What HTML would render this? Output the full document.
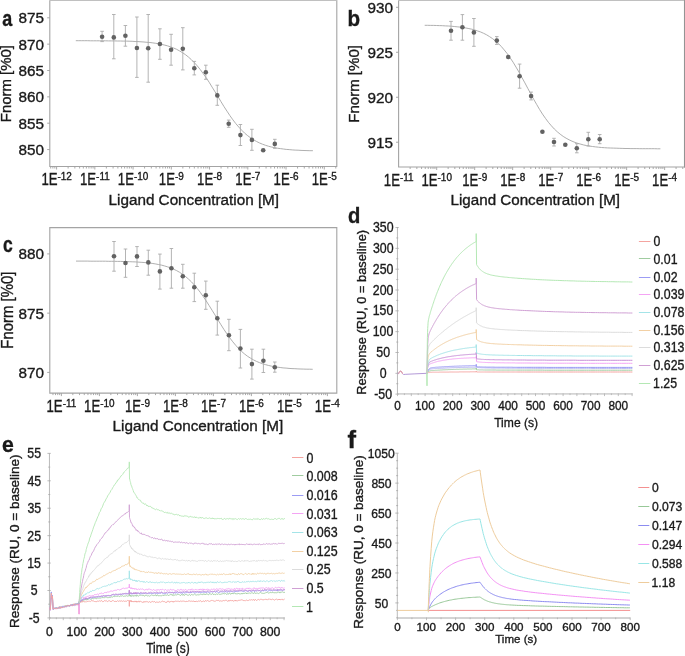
<!DOCTYPE html>
<html><head><meta charset="utf-8"><style>
html,body{margin:0;padding:0;background:#fff;}
svg{display:block;will-change:transform;}
text{font-family:"Liberation Sans", sans-serif;stroke:#1a1a1a;stroke-width:0.35px;}
</style></head><body>
<svg width="685" height="656" viewBox="0 0 685 656" fill="#1a1a1a">
<rect width="685" height="656" fill="#fff"/>
<path d="M49.8 0.5 V166.5 H336.8 V0.5" stroke="#a4a4a4" stroke-width="1.1" fill="none"/>
<path d="M49.3 0.5 H337.3" stroke="#c0c0c0" stroke-width="1" fill="none"/>
<path d="M47.2 17.8 H49.8 M47.2 44.15 H49.8 M47.2 70.5 H49.8 M47.2 96.85 H49.8 M47.2 123.2 H49.8 M47.2 149.55 H49.8 M50.68 166.5 V168.5 M52.89 166.5 V168.5 M54.85 166.5 V168.5 M56.6 166.5 V169.5 M68.11 166.5 V168.5 M74.85 166.5 V168.5 M79.62 166.5 V168.5 M83.33 166.5 V168.5 M86.36 166.5 V168.5 M88.92 166.5 V168.5 M91.13 166.5 V168.5 M93.09 166.5 V168.5 M94.84 166.5 V169.5 M106.35 166.5 V168.5 M113.09 166.5 V168.5 M117.86 166.5 V168.5 M121.57 166.5 V168.5 M124.6 166.5 V168.5 M127.16 166.5 V168.5 M129.37 166.5 V168.5 M131.33 166.5 V168.5 M133.08 166.5 V169.5 M144.59 166.5 V168.5 M151.33 166.5 V168.5 M156.1 166.5 V168.5 M159.81 166.5 V168.5 M162.84 166.5 V168.5 M165.4 166.5 V168.5 M167.61 166.5 V168.5 M169.57 166.5 V168.5 M171.32 166.5 V169.5 M182.83 166.5 V168.5 M189.57 166.5 V168.5 M194.34 166.5 V168.5 M198.05 166.5 V168.5 M201.08 166.5 V168.5 M203.64 166.5 V168.5 M205.85 166.5 V168.5 M207.81 166.5 V168.5 M209.56 166.5 V169.5 M221.07 166.5 V168.5 M227.81 166.5 V168.5 M232.58 166.5 V168.5 M236.29 166.5 V168.5 M239.32 166.5 V168.5 M241.88 166.5 V168.5 M244.09 166.5 V168.5 M246.05 166.5 V168.5 M247.8 166.5 V169.5 M259.31 166.5 V168.5 M266.05 166.5 V168.5 M270.82 166.5 V168.5 M274.53 166.5 V168.5 M277.56 166.5 V168.5 M280.12 166.5 V168.5 M282.33 166.5 V168.5 M284.29 166.5 V168.5 M286.04 166.5 V169.5 M297.55 166.5 V168.5 M304.29 166.5 V168.5 M309.06 166.5 V168.5 M312.77 166.5 V168.5 M315.8 166.5 V168.5 M318.36 166.5 V168.5 M320.57 166.5 V168.5 M322.53 166.5 V168.5 M324.28 166.5 V169.5 M335.79 166.5 V168.5" stroke="#a0a0a0" stroke-width="0.9" fill="none"/>
<text x="44" y="23.2" font-size="15.3" text-anchor="end">875</text>
<text x="44" y="49.55" font-size="15.3" text-anchor="end">870</text>
<text x="44" y="75.9" font-size="15.3" text-anchor="end">865</text>
<text x="44" y="102.25" font-size="15.3" text-anchor="end">860</text>
<text x="44" y="128.6" font-size="15.3" text-anchor="end">855</text>
<text x="44" y="154.95" font-size="15.3" text-anchor="end">850</text>
<text x="41.38" y="185.05" font-size="16.3" textLength="16.15" lengthAdjust="spacingAndGlyphs">1E</text>
<text x="57.51" y="180.2" font-size="10.5" textLength="14.42" lengthAdjust="spacingAndGlyphs">-12</text>
<text x="79.98" y="185.05" font-size="16.3" textLength="16.15" lengthAdjust="spacingAndGlyphs">1E</text>
<text x="96.11" y="180.2" font-size="10.5" textLength="13.68" lengthAdjust="spacingAndGlyphs">-11</text>
<text x="117.8" y="185.05" font-size="16.3" textLength="16.15" lengthAdjust="spacingAndGlyphs">1E</text>
<text x="133.93" y="180.2" font-size="10.5" textLength="14.42" lengthAdjust="spacingAndGlyphs">-10</text>
<text x="158.86" y="185.05" font-size="16.3" textLength="16.15" lengthAdjust="spacingAndGlyphs">1E</text>
<text x="174.99" y="180.2" font-size="10.5" textLength="8.87" lengthAdjust="spacingAndGlyphs">-9</text>
<text x="197.09" y="185.05" font-size="16.3" textLength="16.15" lengthAdjust="spacingAndGlyphs">1E</text>
<text x="213.22" y="180.2" font-size="10.5" textLength="8.87" lengthAdjust="spacingAndGlyphs">-8</text>
<text x="235.36" y="185.05" font-size="16.3" textLength="16.15" lengthAdjust="spacingAndGlyphs">1E</text>
<text x="251.49" y="180.2" font-size="10.5" textLength="8.87" lengthAdjust="spacingAndGlyphs">-7</text>
<text x="273.57" y="185.05" font-size="16.3" textLength="16.15" lengthAdjust="spacingAndGlyphs">1E</text>
<text x="289.7" y="180.2" font-size="10.5" textLength="8.87" lengthAdjust="spacingAndGlyphs">-6</text>
<text x="311.79" y="185.05" font-size="16.3" textLength="16.15" lengthAdjust="spacingAndGlyphs">1E</text>
<text x="327.92" y="180.2" font-size="10.5" textLength="8.87" lengthAdjust="spacingAndGlyphs">-5</text>
<path d="M75.8 40.7L78.8 40.7L81.7 40.7L84.7 40.7L87.7 40.7L90.6 40.8L93.6 40.8L96.5 40.8L99.5 40.8L102.5 40.8L105.4 40.8L108.4 40.9L111.4 40.9L114.3 40.9L117.3 41L120.3 41L123.2 41.1L126.2 41.1L129.1 41.2L132.1 41.3L135.1 41.5L138 41.6L141 41.8L144 42L146.9 42.3L149.9 42.5L152.9 42.9L155.8 43.3L158.8 43.8L161.7 44.4L164.7 45.1L167.7 45.9L170.6 46.9L173.6 48L176.6 49.3L179.5 50.9L182.5 52.7L185.5 54.7L188.4 57L191.4 59.7L194.3 62.6L197.3 65.9L200.3 69.6L203.2 73.6L206.2 77.8L209.2 82.3L212.1 87.1L215.1 91.9L218.1 96.8L221 101.7L224 106.6L227 111.2L229.9 115.6L232.9 119.8L235.8 123.6L238.8 127.1L241.8 130.3L244.7 133.2L247.7 135.7L250.7 137.9L253.6 139.8L256.6 141.5L259.6 143L262.5 144.2L265.5 145.3L268.4 146.2L271.4 147L274.4 147.6L277.3 148.2L280.3 148.6L283.3 149L286.2 149.4L289.2 149.6L292.2 149.9L295.1 150.1L298.1 150.2L301 150.4L304 150.5L307 150.6L309.9 150.7L312.9 150.7" stroke="#a6a6a6" stroke-width="0.9" fill="none"/>
<path d="M102.1 31.3V41.6M100.3 31.3H103.9M100.3 41.6H103.9" stroke="#acacac" stroke-width="0.9" fill="none"/>
<circle cx="102.1" cy="36.8" r="2.3" fill="#626262"/>
<path d="M113.8 14.5V58.8M112 14.5H115.6M112 58.8H115.6" stroke="#acacac" stroke-width="0.9" fill="none"/>
<circle cx="113.8" cy="37.4" r="2.3" fill="#626262"/>
<path d="M125.4 25.5V46.2M123.6 25.5H127.2M123.6 46.2H127.2" stroke="#acacac" stroke-width="0.9" fill="none"/>
<circle cx="125.4" cy="35.7" r="2.3" fill="#626262"/>
<path d="M136.9 17V77.4M135.1 17H138.7M135.1 77.4H138.7" stroke="#acacac" stroke-width="0.9" fill="none"/>
<circle cx="136.9" cy="48" r="2.3" fill="#626262"/>
<path d="M148.2 14.5V82.2M146.4 14.5H150M146.4 82.2H150" stroke="#acacac" stroke-width="0.9" fill="none"/>
<circle cx="148.2" cy="48.2" r="2.3" fill="#626262"/>
<path d="M159.9 28.8V59.3M158.1 28.8H161.7M158.1 59.3H161.7" stroke="#acacac" stroke-width="0.9" fill="none"/>
<circle cx="159.9" cy="44" r="2.3" fill="#626262"/>
<path d="M171.1 34.3V65.2M169.3 34.3H172.9M169.3 65.2H172.9" stroke="#acacac" stroke-width="0.9" fill="none"/>
<circle cx="171.1" cy="49.8" r="2.3" fill="#626262"/>
<path d="M182.8 27.7V69.9M181 27.7H184.6M181 69.9H184.6" stroke="#acacac" stroke-width="0.9" fill="none"/>
<circle cx="182.8" cy="48.7" r="2.3" fill="#626262"/>
<path d="M194.3 61.4V74.9M192.5 61.4H196.1M192.5 74.9H196.1" stroke="#acacac" stroke-width="0.9" fill="none"/>
<circle cx="194.3" cy="68.2" r="2.3" fill="#626262"/>
<path d="M205.8 65.2V79.3M204 65.2H207.6M204 79.3H207.6" stroke="#acacac" stroke-width="0.9" fill="none"/>
<circle cx="205.8" cy="72.2" r="2.3" fill="#626262"/>
<path d="M217.3 85.2V105.3M215.5 85.2H219.1M215.5 105.3H219.1" stroke="#acacac" stroke-width="0.9" fill="none"/>
<circle cx="217.3" cy="95.4" r="2.3" fill="#626262"/>
<path d="M228.7 120.1V127.3M226.9 120.1H230.5M226.9 127.3H230.5" stroke="#acacac" stroke-width="0.9" fill="none"/>
<circle cx="228.7" cy="123.8" r="2.3" fill="#626262"/>
<path d="M240.4 124.5V145.5M238.6 124.5H242.2M238.6 145.5H242.2" stroke="#acacac" stroke-width="0.9" fill="none"/>
<circle cx="240.4" cy="135.1" r="2.3" fill="#626262"/>
<path d="M251.9 129.3V150.3M250.1 129.3H253.7M250.1 150.3H253.7" stroke="#acacac" stroke-width="0.9" fill="none"/>
<circle cx="251.9" cy="139.9" r="2.3" fill="#626262"/>
<circle cx="263.2" cy="150.3" r="2.3" fill="#626262"/>
<path d="M274.8 139.3V148.3M273 139.3H276.6M273 148.3H276.6" stroke="#acacac" stroke-width="0.9" fill="none"/>
<circle cx="274.8" cy="143.9" r="2.3" fill="#626262"/>
<text x="108.54" y="204.55" font-size="15.05" textLength="170.55" lengthAdjust="spacingAndGlyphs">Ligand Concentration [M]</text>
<text x="11.3" y="122.13" font-size="15.13" textLength="77.08" lengthAdjust="spacingAndGlyphs" transform="rotate(-90 11.3 122.13)">Fnorm [%0]</text>
<text x="2.31" y="26.08" font-size="21.55" font-weight="bold" textLength="9.97" lengthAdjust="spacingAndGlyphs">a</text>
<path d="M398.6 0.5 V167 H684.5 V0.5" stroke="#a4a4a4" stroke-width="1.1" fill="none"/>
<path d="M398.1 0.5 H685" stroke="#c0c0c0" stroke-width="1" fill="none"/>
<path d="M396 7.3 H398.6 M396 52.27 H398.6 M396 97.25 H398.6 M396 142.22 H398.6 M410.14 167 V169 M416.83 167 V169 M421.57 167 V169 M425.25 167 V169 M428.26 167 V169 M430.81 167 V169 M433.01 167 V169 M434.95 167 V169 M436.69 167 V170 M448.13 167 V169 M454.82 167 V169 M459.56 167 V169 M463.24 167 V169 M466.25 167 V169 M468.8 167 V169 M471 167 V169 M472.94 167 V169 M474.68 167 V170 M486.12 167 V169 M492.81 167 V169 M497.55 167 V169 M501.23 167 V169 M504.24 167 V169 M506.79 167 V169 M508.99 167 V169 M510.93 167 V169 M512.67 167 V170 M524.11 167 V169 M530.8 167 V169 M535.54 167 V169 M539.22 167 V169 M542.23 167 V169 M544.78 167 V169 M546.98 167 V169 M548.92 167 V169 M550.66 167 V170 M562.1 167 V169 M568.79 167 V169 M573.53 167 V169 M577.21 167 V169 M580.22 167 V169 M582.77 167 V169 M584.97 167 V169 M586.91 167 V169 M588.65 167 V170 M600.09 167 V169 M606.78 167 V169 M611.52 167 V169 M615.2 167 V169 M618.21 167 V169 M620.76 167 V169 M622.96 167 V169 M624.9 167 V169 M626.64 167 V170 M638.08 167 V169 M644.77 167 V169 M649.51 167 V169 M653.19 167 V169 M656.2 167 V169 M658.75 167 V169 M660.95 167 V169 M662.89 167 V169 M664.63 167 V170 M676.07 167 V169 M682.76 167 V169" stroke="#a0a0a0" stroke-width="0.9" fill="none"/>
<text x="393" y="12.7" font-size="15.3" text-anchor="end">930</text>
<text x="393" y="57.67" font-size="15.3" text-anchor="end">925</text>
<text x="393" y="102.65" font-size="15.3" text-anchor="end">920</text>
<text x="393" y="147.62" font-size="15.3" text-anchor="end">915</text>
<text x="383.84" y="185.6" font-size="16.3" textLength="16.15" lengthAdjust="spacingAndGlyphs">1E</text>
<text x="399.97" y="180.75" font-size="10.5" textLength="13.68" lengthAdjust="spacingAndGlyphs">-11</text>
<text x="421.41" y="185.6" font-size="16.3" textLength="16.15" lengthAdjust="spacingAndGlyphs">1E</text>
<text x="437.54" y="180.75" font-size="10.5" textLength="14.42" lengthAdjust="spacingAndGlyphs">-10</text>
<text x="462.22" y="185.6" font-size="16.3" textLength="16.15" lengthAdjust="spacingAndGlyphs">1E</text>
<text x="478.35" y="180.75" font-size="10.5" textLength="8.87" lengthAdjust="spacingAndGlyphs">-9</text>
<text x="500.2" y="185.6" font-size="16.3" textLength="16.15" lengthAdjust="spacingAndGlyphs">1E</text>
<text x="516.33" y="180.75" font-size="10.5" textLength="8.87" lengthAdjust="spacingAndGlyphs">-8</text>
<text x="538.22" y="185.6" font-size="16.3" textLength="16.15" lengthAdjust="spacingAndGlyphs">1E</text>
<text x="554.35" y="180.75" font-size="10.5" textLength="8.87" lengthAdjust="spacingAndGlyphs">-7</text>
<text x="576.18" y="185.6" font-size="16.3" textLength="16.15" lengthAdjust="spacingAndGlyphs">1E</text>
<text x="592.31" y="180.75" font-size="10.5" textLength="8.87" lengthAdjust="spacingAndGlyphs">-6</text>
<text x="614.15" y="185.6" font-size="16.3" textLength="16.15" lengthAdjust="spacingAndGlyphs">1E</text>
<text x="630.28" y="180.75" font-size="10.5" textLength="8.87" lengthAdjust="spacingAndGlyphs">-5</text>
<text x="652.08" y="185.6" font-size="16.3" textLength="16.15" lengthAdjust="spacingAndGlyphs">1E</text>
<text x="668.21" y="180.75" font-size="10.5" textLength="8.87" lengthAdjust="spacingAndGlyphs">-4</text>
<path d="M424.7 25.3L427.6 25.3L430.6 25.4L433.5 25.4L436.5 25.5L439.4 25.6L442.4 25.7L445.3 25.9L448.3 26L451.2 26.2L454.2 26.5L457.1 26.8L460.1 27.1L463 27.5L465.9 28L468.9 28.6L471.8 29.2L474.8 30L477.7 31L480.7 32L483.6 33.3L486.6 34.8L489.5 36.6L492.5 38.6L495.4 40.9L498.4 43.5L501.3 46.5L504.2 49.9L507.2 53.6L510.1 57.8L513.1 62.2L516 67.1L519 72.1L521.9 77.5L524.9 82.9L527.8 88.4L530.8 93.9L533.7 99.3L536.7 104.5L539.6 109.5L542.5 114.1L545.5 118.4L548.4 122.3L551.4 125.8L554.3 129L557.3 131.8L560.2 134.2L563.2 136.4L566.1 138.2L569.1 139.8L572 141.2L575 142.4L577.9 143.4L580.9 144.2L583.8 145L586.7 145.6L589.7 146.1L592.6 146.5L595.6 146.9L598.5 147.2L601.5 147.5L604.4 147.7L607.4 147.9L610.3 148L613.3 148.1L616.2 148.2L619.2 148.3L622.1 148.4L625 148.5L628 148.5L630.9 148.6L633.9 148.6L636.8 148.6L639.8 148.7L642.7 148.7L645.7 148.7L648.6 148.7L651.6 148.7L654.5 148.7L657.5 148.8L660.4 148.8" stroke="#a6a6a6" stroke-width="0.9" fill="none"/>
<path d="M451 21.4V40.2M449.2 21.4H452.8M449.2 40.2H452.8" stroke="#acacac" stroke-width="0.9" fill="none"/>
<circle cx="451" cy="30.7" r="2.3" fill="#626262"/>
<path d="M462.4 14.6V40.2M460.6 14.6H464.2M460.6 40.2H464.2" stroke="#acacac" stroke-width="0.9" fill="none"/>
<circle cx="462.4" cy="27.3" r="2.3" fill="#626262"/>
<path d="M473.9 18.5V46.3M472.1 18.5H475.7M472.1 46.3H475.7" stroke="#acacac" stroke-width="0.9" fill="none"/>
<circle cx="473.9" cy="32.4" r="2.3" fill="#626262"/>
<path d="M496.8 36.6V44.4M495 36.6H498.6M495 44.4H498.6" stroke="#acacac" stroke-width="0.9" fill="none"/>
<circle cx="496.8" cy="40.6" r="2.3" fill="#626262"/>
<circle cx="508.2" cy="57" r="2.3" fill="#626262"/>
<path d="M519.6 64.1V88.2M517.8 64.1H521.4M517.8 88.2H521.4" stroke="#acacac" stroke-width="0.9" fill="none"/>
<circle cx="519.6" cy="76.2" r="2.3" fill="#626262"/>
<path d="M531.1 92.1V99.9M529.3 92.1H532.9M529.3 99.9H532.9" stroke="#acacac" stroke-width="0.9" fill="none"/>
<circle cx="531.1" cy="96.1" r="2.3" fill="#626262"/>
<circle cx="542.4" cy="131.8" r="2.3" fill="#626262"/>
<path d="M554 138.3V146M552.2 138.3H555.8M552.2 146H555.8" stroke="#acacac" stroke-width="0.9" fill="none"/>
<circle cx="554" cy="142" r="2.3" fill="#626262"/>
<circle cx="565.3" cy="144.8" r="2.3" fill="#626262"/>
<path d="M576.8 143.7V152.8M575 143.7H578.6M575 152.8H578.6" stroke="#acacac" stroke-width="0.9" fill="none"/>
<circle cx="576.8" cy="148.2" r="2.3" fill="#626262"/>
<path d="M588.3 132.3V146M586.5 132.3H590.1M586.5 146H590.1" stroke="#acacac" stroke-width="0.9" fill="none"/>
<circle cx="588.3" cy="139.3" r="2.3" fill="#626262"/>
<path d="M599.7 134.5V143.7M597.9 134.5H601.5M597.9 143.7H601.5" stroke="#acacac" stroke-width="0.9" fill="none"/>
<circle cx="599.7" cy="139.3" r="2.3" fill="#626262"/>
<text x="450.55" y="204.8" font-size="14.69" textLength="169.43" lengthAdjust="spacingAndGlyphs">Ligand Concentration [M]</text>
<path d="M684.5 0 V167.5" stroke="#949494" stroke-width="1" fill="none"/>
<text x="359.5" y="122.74" font-size="15.42" textLength="77.7" lengthAdjust="spacingAndGlyphs" transform="rotate(-90 359.5 122.74)">Fnorm [%0]</text>
<text x="347.56" y="25.79" font-size="21.5" font-weight="bold" textLength="12.58" lengthAdjust="spacingAndGlyphs">b</text>
<path d="M49.8 227.6 V393.1 H336.8 V227.6 H49.8 Z" stroke="#a4a4a4" stroke-width="1.1" fill="none"/>
<path d="M47.2 253.9 H49.8 M47.2 313.15 H49.8 M47.2 372.4 H49.8 M52.97 393.1 V395.1 M55.51 393.1 V395.1 M57.72 393.1 V395.1 M59.66 393.1 V395.1 M61.4 393.1 V396.1 M72.84 393.1 V395.1 M79.53 393.1 V395.1 M84.28 393.1 V395.1 M87.96 393.1 V395.1 M90.97 393.1 V395.1 M93.51 393.1 V395.1 M95.72 393.1 V395.1 M97.66 393.1 V395.1 M99.4 393.1 V396.1 M110.84 393.1 V395.1 M117.53 393.1 V395.1 M122.28 393.1 V395.1 M125.96 393.1 V395.1 M128.97 393.1 V395.1 M131.51 393.1 V395.1 M133.72 393.1 V395.1 M135.66 393.1 V395.1 M137.4 393.1 V396.1 M148.84 393.1 V395.1 M155.53 393.1 V395.1 M160.28 393.1 V395.1 M163.96 393.1 V395.1 M166.97 393.1 V395.1 M169.51 393.1 V395.1 M171.72 393.1 V395.1 M173.66 393.1 V395.1 M175.4 393.1 V396.1 M186.84 393.1 V395.1 M193.53 393.1 V395.1 M198.28 393.1 V395.1 M201.96 393.1 V395.1 M204.97 393.1 V395.1 M207.51 393.1 V395.1 M209.72 393.1 V395.1 M211.66 393.1 V395.1 M213.4 393.1 V396.1 M224.84 393.1 V395.1 M231.53 393.1 V395.1 M236.28 393.1 V395.1 M239.96 393.1 V395.1 M242.97 393.1 V395.1 M245.51 393.1 V395.1 M247.72 393.1 V395.1 M249.66 393.1 V395.1 M251.4 393.1 V396.1 M262.84 393.1 V395.1 M269.53 393.1 V395.1 M274.28 393.1 V395.1 M277.96 393.1 V395.1 M280.97 393.1 V395.1 M283.51 393.1 V395.1 M285.72 393.1 V395.1 M287.66 393.1 V395.1 M289.4 393.1 V396.1 M300.84 393.1 V395.1 M307.53 393.1 V395.1 M312.28 393.1 V395.1 M315.96 393.1 V395.1 M318.97 393.1 V395.1 M321.51 393.1 V395.1 M323.72 393.1 V395.1 M325.66 393.1 V395.1 M327.4 393.1 V396.1" stroke="#a0a0a0" stroke-width="0.9" fill="none"/>
<text x="44" y="259.3" font-size="15.3" text-anchor="end">880</text>
<text x="44" y="318.55" font-size="15.3" text-anchor="end">875</text>
<text x="44" y="377.8" font-size="15.3" text-anchor="end">870</text>
<text x="46.54" y="411.6" font-size="16.3" textLength="16.15" lengthAdjust="spacingAndGlyphs">1E</text>
<text x="62.67" y="406.75" font-size="10.5" textLength="13.68" lengthAdjust="spacingAndGlyphs">-11</text>
<text x="84.12" y="411.6" font-size="16.3" textLength="16.15" lengthAdjust="spacingAndGlyphs">1E</text>
<text x="100.25" y="406.75" font-size="10.5" textLength="14.42" lengthAdjust="spacingAndGlyphs">-10</text>
<text x="124.94" y="411.6" font-size="16.3" textLength="16.15" lengthAdjust="spacingAndGlyphs">1E</text>
<text x="141.07" y="406.75" font-size="10.5" textLength="8.87" lengthAdjust="spacingAndGlyphs">-9</text>
<text x="162.93" y="411.6" font-size="16.3" textLength="16.15" lengthAdjust="spacingAndGlyphs">1E</text>
<text x="179.06" y="406.75" font-size="10.5" textLength="8.87" lengthAdjust="spacingAndGlyphs">-8</text>
<text x="200.96" y="411.6" font-size="16.3" textLength="16.15" lengthAdjust="spacingAndGlyphs">1E</text>
<text x="217.09" y="406.75" font-size="10.5" textLength="8.87" lengthAdjust="spacingAndGlyphs">-7</text>
<text x="238.93" y="411.6" font-size="16.3" textLength="16.15" lengthAdjust="spacingAndGlyphs">1E</text>
<text x="255.06" y="406.75" font-size="10.5" textLength="8.87" lengthAdjust="spacingAndGlyphs">-6</text>
<text x="276.91" y="411.6" font-size="16.3" textLength="16.15" lengthAdjust="spacingAndGlyphs">1E</text>
<text x="293.04" y="406.75" font-size="10.5" textLength="8.87" lengthAdjust="spacingAndGlyphs">-5</text>
<text x="314.85" y="411.6" font-size="16.3" textLength="16.15" lengthAdjust="spacingAndGlyphs">1E</text>
<text x="330.98" y="406.75" font-size="10.5" textLength="8.87" lengthAdjust="spacingAndGlyphs">-4</text>
<path d="M76 261.1L79 261.1L81.9 261.1L84.9 261.1L87.8 261.1L90.8 261.2L93.8 261.2L96.7 261.2L99.7 261.2L102.6 261.2L105.6 261.2L108.5 261.3L111.5 261.3L114.5 261.3L117.4 261.4L120.4 261.4L123.3 261.5L126.3 261.6L129.3 261.7L132.2 261.8L135.2 261.9L138.1 262.1L141.1 262.3L144.1 262.5L147 262.8L150 263.1L152.9 263.5L155.9 264L158.8 264.6L161.8 265.2L164.8 266L167.7 266.9L170.7 267.9L173.6 269.2L176.6 270.6L179.6 272.3L182.5 274.3L185.5 276.5L188.4 279L191.4 281.8L194.3 285L197.3 288.5L200.3 292.4L203.2 296.5L206.2 300.9L209.1 305.5L212.1 310.3L215.1 315.1L218 320L221 324.8L223.9 329.4L226.9 333.8L229.9 338L232.8 341.8L235.8 345.4L238.7 348.6L241.7 351.5L244.6 354L247.6 356.3L250.6 358.2L253.5 359.9L256.5 361.4L259.4 362.6L262.4 363.7L265.4 364.6L268.3 365.4L271.3 366.1L274.2 366.7L277.2 367.1L280.2 367.5L283.1 367.9L286.1 368.1L289 368.4L292 368.6L294.9 368.7L297.9 368.9L300.9 369L303.8 369.1L306.8 369.2L309.7 369.2L312.7 369.3" stroke="#a6a6a6" stroke-width="0.9" fill="none"/>
<path d="M114 241.5V271.2M112.2 241.5H115.8M112.2 271.2H115.8" stroke="#acacac" stroke-width="0.9" fill="none"/>
<circle cx="114" cy="256.2" r="2.3" fill="#626262"/>
<path d="M125.5 249V277.3M123.7 249H127.3M123.7 277.3H127.3" stroke="#acacac" stroke-width="0.9" fill="none"/>
<circle cx="125.5" cy="263" r="2.3" fill="#626262"/>
<path d="M137 246.6V266.5M135.2 246.6H138.8M135.2 266.5H138.8" stroke="#acacac" stroke-width="0.9" fill="none"/>
<circle cx="137" cy="256.4" r="2.3" fill="#626262"/>
<path d="M148.3 250.2V275.2M146.5 250.2H150.1M146.5 275.2H150.1" stroke="#acacac" stroke-width="0.9" fill="none"/>
<circle cx="148.3" cy="262.4" r="2.3" fill="#626262"/>
<path d="M159.9 254.1V289.1M158.1 254.1H161.7M158.1 289.1H161.7" stroke="#acacac" stroke-width="0.9" fill="none"/>
<circle cx="159.9" cy="271.4" r="2.3" fill="#626262"/>
<path d="M171.4 248.5V288.2M169.6 248.5H173.2M169.6 288.2H173.2" stroke="#acacac" stroke-width="0.9" fill="none"/>
<circle cx="171.4" cy="268.2" r="2.3" fill="#626262"/>
<path d="M182.8 264.3V288.2M181 264.3H184.6M181 288.2H184.6" stroke="#acacac" stroke-width="0.9" fill="none"/>
<circle cx="182.8" cy="276.2" r="2.3" fill="#626262"/>
<path d="M194.3 273.2V301.6M192.5 273.2H196.1M192.5 301.6H196.1" stroke="#acacac" stroke-width="0.9" fill="none"/>
<circle cx="194.3" cy="287.3" r="2.3" fill="#626262"/>
<path d="M205.8 281.1V309.3M204 281.1H207.6M204 309.3H207.6" stroke="#acacac" stroke-width="0.9" fill="none"/>
<circle cx="205.8" cy="295.2" r="2.3" fill="#626262"/>
<path d="M217.3 301.2V335.1M215.5 301.2H219.1M215.5 335.1H219.1" stroke="#acacac" stroke-width="0.9" fill="none"/>
<circle cx="217.3" cy="318.3" r="2.3" fill="#626262"/>
<path d="M228.9 319.3V350.7M227.1 319.3H230.7M227.1 350.7H230.7" stroke="#acacac" stroke-width="0.9" fill="none"/>
<circle cx="228.9" cy="335.3" r="2.3" fill="#626262"/>
<path d="M240.4 329.4V368M238.6 329.4H242.2M238.6 368H242.2" stroke="#acacac" stroke-width="0.9" fill="none"/>
<circle cx="240.4" cy="348.6" r="2.3" fill="#626262"/>
<path d="M251.9 349.2V379.1M250.1 349.2H253.7M250.1 379.1H253.7" stroke="#acacac" stroke-width="0.9" fill="none"/>
<circle cx="251.9" cy="364.1" r="2.3" fill="#626262"/>
<path d="M263.4 349.2V372.5M261.6 349.2H265.2M261.6 372.5H265.2" stroke="#acacac" stroke-width="0.9" fill="none"/>
<circle cx="263.4" cy="360.7" r="2.3" fill="#626262"/>
<path d="M274.8 362V372.2M273 362H276.6M273 372.2H276.6" stroke="#acacac" stroke-width="0.9" fill="none"/>
<circle cx="274.8" cy="367.3" r="2.3" fill="#626262"/>
<text x="112.54" y="430.9" font-size="15.27" textLength="170.65" lengthAdjust="spacingAndGlyphs">Ligand Concentration [M]</text>
<text x="13" y="348.63" font-size="15.85" textLength="76.98" lengthAdjust="spacingAndGlyphs" transform="rotate(-90 13 348.63)">Fnorm [%0]</text>
<text x="3" y="252.39" font-size="21.19" font-weight="bold" textLength="9.75" lengthAdjust="spacingAndGlyphs">c</text>
<path d="M397.45 393.9 H632.6" stroke="#d4d4d4" stroke-width="1.8" fill="none"/>
<path d="M397.45 227 V393.9 M396.25 237.94 H398.25 M396.25 258.76 H398.25 M396.25 279.59 H398.25 M396.25 300.41 H398.25 M396.25 321.24 H398.25 M396.25 342.06 H398.25 M396.25 362.89 H398.25 M396.25 383.71 H398.25 M395.45 227.53 H398.75 M395.45 248.35 H398.75 M395.45 269.18 H398.75 M395.45 290 H398.75 M395.45 310.83 H398.75 M395.45 331.65 H398.75 M395.45 352.48 H398.75 M395.45 373.3 H398.75 M395.45 394.12 H398.75" stroke="#a8a8a8" stroke-width="0.8" fill="none"/>
<path d="M397.5 393.4 V396.1 M404.4 393.4 V395.1 M411.3 393.4 V396.1 M418.2 393.4 V395.1 M425.1 393.4 V396.1 M432 393.4 V395.1 M438.9 393.4 V396.1 M445.8 393.4 V395.1 M452.7 393.4 V396.1 M459.6 393.4 V395.1 M466.5 393.4 V396.1 M473.4 393.4 V395.1 M480.3 393.4 V396.1 M487.2 393.4 V395.1 M494.1 393.4 V396.1 M501 393.4 V395.1 M507.9 393.4 V396.1 M514.8 393.4 V395.1 M521.7 393.4 V396.1 M528.6 393.4 V395.1 M535.5 393.4 V396.1 M542.4 393.4 V395.1 M549.3 393.4 V396.1 M556.2 393.4 V395.1 M563.1 393.4 V396.1 M570 393.4 V395.1 M576.9 393.4 V396.1 M583.8 393.4 V395.1 M590.7 393.4 V396.1 M597.6 393.4 V395.1 M604.5 393.4 V396.1 M611.4 393.4 V395.1 M618.3 393.4 V396.1 M625.2 393.4 V395.1 M632.1 393.4 V396.1" stroke="#b0b0b0" stroke-width="0.8" fill="none"/>
<text x="372.91" y="232.12" font-size="14.1" textLength="20.59" lengthAdjust="spacingAndGlyphs">350</text>
<text x="372.91" y="252.95" font-size="14.1" textLength="20.59" lengthAdjust="spacingAndGlyphs">300</text>
<text x="372.84" y="273.78" font-size="14.1" textLength="20.59" lengthAdjust="spacingAndGlyphs">250</text>
<text x="372.84" y="294.6" font-size="14.1" textLength="20.59" lengthAdjust="spacingAndGlyphs">200</text>
<text x="372.68" y="315.43" font-size="14.1" textLength="20.59" lengthAdjust="spacingAndGlyphs">150</text>
<text x="372.68" y="336.25" font-size="14.1" textLength="20.59" lengthAdjust="spacingAndGlyphs">100</text>
<text x="376.34" y="357.08" font-size="14.1" textLength="13.72" lengthAdjust="spacingAndGlyphs">50</text>
<text x="379.76" y="377.9" font-size="14.1" textLength="6.86" lengthAdjust="spacingAndGlyphs">0</text>
<text x="374.24" y="398.73" font-size="14.1" textLength="17.83" lengthAdjust="spacingAndGlyphs">-50</text>
<text x="394.21" y="410.4" font-size="12.3" textLength="6.57" lengthAdjust="spacingAndGlyphs">0</text>
<text x="415.03" y="410.4" font-size="12.3" textLength="19.7" lengthAdjust="spacingAndGlyphs">100</text>
<text x="442.78" y="410.4" font-size="12.3" textLength="19.7" lengthAdjust="spacingAndGlyphs">200</text>
<text x="470.46" y="410.4" font-size="12.3" textLength="19.7" lengthAdjust="spacingAndGlyphs">300</text>
<text x="498.14" y="410.4" font-size="12.3" textLength="19.7" lengthAdjust="spacingAndGlyphs">400</text>
<text x="525.64" y="410.4" font-size="12.3" textLength="19.7" lengthAdjust="spacingAndGlyphs">500</text>
<text x="553.18" y="410.4" font-size="12.3" textLength="19.7" lengthAdjust="spacingAndGlyphs">600</text>
<text x="580.78" y="410.4" font-size="12.3" textLength="19.7" lengthAdjust="spacingAndGlyphs">700</text>
<text x="608.43" y="410.4" font-size="12.3" textLength="19.7" lengthAdjust="spacingAndGlyphs">800</text>
<path d="M397.5 373.3L398.6 373.7L399.2 372.3L400 371.2L400.8 371L401.6 371.8L402.5 373.7L403.6 374.5L405.8 374.3L414.1 373.9L427 373.3" stroke="#b49ad8" stroke-width="1" fill="none"/>
<path d="M398.6 373.7L399.2 372.3L400 371.2L400.8 371L401.6 371.8L402.5 373.7" stroke="#ec9a9a" stroke-width="1" fill="none"/>
<path d="M426.9 373.3L427 373.3L427.2 373.2L427.3 373.1L427.4 373L427.6 372.9L427.7 372.9L427.9 372.8L428 372.8L428.1 372.7L428.3 372.7L428.4 372.6L428.6 372.6L428.7 372.5L429 372.5L429.2 372.4L429.5 372.4L429.8 372.4L430.1 372.3L430.3 372.3L430.6 372.3L430.9 372.3L431.2 372.3L431.4 372.3L431.7 372.3L432 372.2L432.3 372.2L432.6 372.2L432.8 372.2L433.1 372.2L433.4 372.2L433.7 372.2L433.9 372.2L434.2 372.2L434.5 372.2L434.8 372.2L435 372.2L435.3 372.2L435.6 372.2L435.9 372.2L436.1 372.2L436.4 372.2L436.7 372.2L437 372.2L437.2 372.2L437.5 372.2L437.8 372.2L438.1 372.2L438.6 372.2L439.2 372.2L439.7 372.1L440.3 372.1L440.8 372.1L441.4 372.1L441.9 372.1L442.5 372.1L443 372.1L443.6 372.1L444.1 372.1L444.7 372.1L445.2 372.1L445.8 372.1L446.4 372.1L446.9 372.1L447.5 372.1L448 372.1L448.6 372.1L449.1 372.1L449.7 372L450.2 372L450.8 372L451.3 372L451.9 372L452.4 372L453 372L453.5 372L454.1 372L454.6 372L455.2 372L455.7 372L456.3 372L456.8 372L457.4 372L457.9 372L458.5 372L459 372L459.6 371.9L460.2 371.9L460.7 371.9L461.3 371.9L461.8 371.9L462.4 371.9L462.9 371.9L463.5 371.9L464 371.9L464.6 371.9L465.1 371.9L465.7 371.9L466.2 371.9L466.8 371.9L467.3 371.9L467.9 371.9L468.4 371.9L469 371.9L469.5 371.9L470.1 371.8L470.6 371.8L471.2 371.8L471.7 371.8L472.3 371.8L472.8 371.8L473.4 371.8L474 371.8L474.5 371.8L475.1 371.8L475.6 371.8L476.2 371.8L476.2 371.2L476.6 372L476.9 372L477.1 372L477.4 372L477.7 372L478 372L478.2 372L478.5 372L478.8 372L479.1 372L479.3 372L479.6 372L479.9 372L480.2 372L480.4 372L480.7 372L481 372L481.3 372L481.5 372L481.8 372L482.1 372L482.4 372L482.6 372L482.9 372L483.2 372L483.5 372L483.8 372L484 372L484.3 372L484.6 372L484.9 372L485.7 372L486.5 372L487.3 372L488.2 372L489 372L489.8 372L490.6 372L491.5 372L492.3 372L493.1 372L494 372L494.8 372L495.6 372L496.4 372L497.3 372L498.1 372L498.9 372L499.8 372L500.6 372L501.4 372L502.2 372L503.1 372L503.9 372L504.7 372L505.6 372L506.4 372L507.2 372L508 372L508.9 372L509.7 372L510.5 372L511.4 372L512.2 372L513 372L513.8 372L514.7 372L515.5 372L516.3 372L517.1 372L518 372L520.2 372L522.4 372L524.6 372L526.8 372L529 372L531.2 372L533.4 372L535.6 372L537.8 372L540.1 372L542.3 372L544.5 372L546.7 372L548.9 372L551.1 372L553.3 372L555.5 372L557.7 372L559.9 372L562.1 372L564.3 372L566.5 372L568.8 372L571 372L573.2 372L575.4 372L577.6 372L579.8 372L582 372L584.2 372L586.4 372L588.6 372L590.8 372L593 372L595.3 372L597.5 372L599.7 372L601.9 372L604.1 372L606.3 372L608.5 372L610.7 372L612.9 372L615.1 372L617.3 372L619.5 372L621.8 372L624 372L626.2 372L628.4 372L630.6 372L632.4 372" stroke="#f4a4a0" stroke-width="1" fill="none"/>
<path d="M426.9 373.3L427 373.3L427.2 373L427.3 372.7L427.4 372.5L427.6 372.2L427.7 372.1L427.9 371.9L428 371.8L428.1 371.6L428.3 371.5L428.4 371.4L428.6 371.3L428.7 371.3L429 371.1L429.2 371L429.5 371L429.8 370.9L430.1 370.8L430.3 370.8L430.6 370.7L430.9 370.7L431.2 370.7L431.4 370.6L431.7 370.6L432 370.6L432.3 370.6L432.6 370.5L432.8 370.5L433.1 370.5L433.4 370.5L433.7 370.5L433.9 370.4L434.2 370.4L434.5 370.4L434.8 370.4L435 370.4L435.3 370.3L435.6 370.3L435.9 370.3L436.1 370.3L436.4 370.3L436.7 370.2L437 370.2L437.2 370.2L437.5 370.2L437.8 370.2L438.1 370.2L438.6 370.1L439.2 370.1L439.7 370.1L440.3 370L440.8 370L441.4 370L441.9 369.9L442.5 369.9L443 369.9L443.6 369.8L444.1 369.8L444.7 369.8L445.2 369.8L445.8 369.7L446.4 369.7L446.9 369.7L447.5 369.7L448 369.6L448.6 369.6L449.1 369.6L449.7 369.6L450.2 369.6L450.8 369.5L451.3 369.5L451.9 369.5L452.4 369.5L453 369.4L453.5 369.4L454.1 369.4L454.6 369.4L455.2 369.4L455.7 369.4L456.3 369.3L456.8 369.3L457.4 369.3L457.9 369.3L458.5 369.3L459 369.2L459.6 369.2L460.2 369.2L460.7 369.2L461.3 369.2L461.8 369.2L462.4 369.2L462.9 369.1L463.5 369.1L464 369.1L464.6 369.1L465.1 369.1L465.7 369.1L466.2 369.1L466.8 369.1L467.3 369L467.9 369L468.4 369L469 369L469.5 369L470.1 369L470.6 369L471.2 369L471.7 369L472.3 368.9L472.8 368.9L473.4 368.9L474 368.9L474.5 368.9L475.1 368.9L475.6 368.9L476.2 368.9L476.2 368L476.6 369.8L476.9 369.8L477.1 369.8L477.4 369.8L477.7 369.8L478 369.8L478.2 369.8L478.5 369.8L478.8 369.8L479.1 369.9L479.3 369.9L479.6 369.9L479.9 369.9L480.2 369.9L480.4 369.9L480.7 369.9L481 369.9L481.3 369.9L481.5 369.9L481.8 369.9L482.1 369.9L482.4 369.9L482.6 369.9L482.9 369.9L483.2 369.9L483.5 370L483.8 370L484 370L484.3 370L484.6 370L484.9 370L485.7 370L486.5 370L487.3 370L488.2 370L489 370L489.8 370L490.6 370L491.5 370L492.3 370L493.1 370L494 370L494.8 370L495.6 370L496.4 370.1L497.3 370.1L498.1 370.1L498.9 370.1L499.8 370.1L500.6 370.1L501.4 370.1L502.2 370.1L503.1 370.1L503.9 370.1L504.7 370.1L505.6 370.1L506.4 370.1L507.2 370.1L508 370.1L508.9 370.1L509.7 370.1L510.5 370.1L511.4 370.1L512.2 370.1L513 370.1L513.8 370.1L514.7 370.1L515.5 370.1L516.3 370.1L517.1 370.1L518 370.1L520.2 370.1L522.4 370.1L524.6 370.1L526.8 370.1L529 370.1L531.2 370.1L533.4 370.1L535.6 370.1L537.8 370.1L540.1 370.1L542.3 370.1L544.5 370.2L546.7 370.2L548.9 370.2L551.1 370.2L553.3 370.2L555.5 370.2L557.7 370.2L559.9 370.2L562.1 370.2L564.3 370.2L566.5 370.2L568.8 370.2L571 370.2L573.2 370.2L575.4 370.2L577.6 370.2L579.8 370.2L582 370.2L584.2 370.2L586.4 370.2L588.6 370.2L590.8 370.2L593 370.2L595.3 370.2L597.5 370.2L599.7 370.2L601.9 370.2L604.1 370.2L606.3 370.2L608.5 370.2L610.7 370.2L612.9 370.2L615.1 370.2L617.3 370.2L619.5 370.2L621.8 370.2L624 370.2L626.2 370.2L628.4 370.2L630.6 370.2L632.4 370.2" stroke="#a0cca0" stroke-width="1" fill="none"/>
<path d="M426.9 373.3L427 373.3L427.2 372.8L427.3 372.4L427.4 372L427.6 371.6L427.7 371.3L427.9 371L428 370.8L428.1 370.6L428.3 370.4L428.4 370.2L428.6 370.1L428.7 369.9L429 369.7L429.2 369.5L429.5 369.4L429.8 369.3L430.1 369.2L430.3 369.1L430.6 369L430.9 369L431.2 368.9L431.4 368.9L431.7 368.9L432 368.8L432.3 368.8L432.6 368.8L432.8 368.7L433.1 368.7L433.4 368.7L433.7 368.7L433.9 368.7L434.2 368.6L434.5 368.6L434.8 368.6L435 368.6L435.3 368.6L435.6 368.5L435.9 368.5L436.1 368.5L436.4 368.5L436.7 368.5L437 368.5L437.2 368.4L437.5 368.4L437.8 368.4L438.1 368.4L438.6 368.4L439.2 368.3L439.7 368.3L440.3 368.3L440.8 368.2L441.4 368.2L441.9 368.2L442.5 368.2L443 368.1L443.6 368.1L444.1 368.1L444.7 368.1L445.2 368L445.8 368L446.4 368L446.9 367.9L447.5 367.9L448 367.9L448.6 367.9L449.1 367.9L449.7 367.8L450.2 367.8L450.8 367.8L451.3 367.8L451.9 367.7L452.4 367.7L453 367.7L453.5 367.7L454.1 367.7L454.6 367.6L455.2 367.6L455.7 367.6L456.3 367.6L456.8 367.6L457.4 367.6L457.9 367.5L458.5 367.5L459 367.5L459.6 367.5L460.2 367.5L460.7 367.4L461.3 367.4L461.8 367.4L462.4 367.4L462.9 367.4L463.5 367.4L464 367.4L464.6 367.3L465.1 367.3L465.7 367.3L466.2 367.3L466.8 367.3L467.3 367.3L467.9 367.3L468.4 367.2L469 367.2L469.5 367.2L470.1 367.2L470.6 367.2L471.2 367.2L471.7 367.2L472.3 367.2L472.8 367.1L473.4 367.1L474 367.1L474.5 367.1L475.1 367.1L475.6 367.1L476.2 367.1L476.2 366.2L476.6 367.5L476.9 367.5L477.1 367.5L477.4 367.5L477.7 367.6L478 367.6L478.2 367.6L478.5 367.6L478.8 367.6L479.1 367.6L479.3 367.7L479.6 367.7L479.9 367.7L480.2 367.7L480.4 367.7L480.7 367.7L481 367.7L481.3 367.7L481.5 367.8L481.8 367.8L482.1 367.8L482.4 367.8L482.6 367.8L482.9 367.8L483.2 367.8L483.5 367.8L483.8 367.8L484 367.8L484.3 367.8L484.6 367.8L484.9 367.9L485.7 367.9L486.5 367.9L487.3 367.9L488.2 367.9L489 367.9L489.8 367.9L490.6 367.9L491.5 368L492.3 368L493.1 368L494 368L494.8 368L495.6 368L496.4 368L497.3 368L498.1 368L498.9 368L499.8 368L500.6 368L501.4 368L502.2 368L503.1 368L503.9 368L504.7 368L505.6 368.1L506.4 368.1L507.2 368.1L508 368.1L508.9 368.1L509.7 368.1L510.5 368.1L511.4 368.1L512.2 368.1L513 368.1L513.8 368.1L514.7 368.1L515.5 368.1L516.3 368.1L517.1 368.1L518 368.1L520.2 368.1L522.4 368.1L524.6 368.1L526.8 368.1L529 368.1L531.2 368.1L533.4 368.2L535.6 368.2L537.8 368.2L540.1 368.2L542.3 368.2L544.5 368.2L546.7 368.2L548.9 368.2L551.1 368.2L553.3 368.2L555.5 368.2L557.7 368.2L559.9 368.2L562.1 368.2L564.3 368.2L566.5 368.2L568.8 368.2L571 368.2L573.2 368.2L575.4 368.2L577.6 368.2L579.8 368.2L582 368.2L584.2 368.2L586.4 368.2L588.6 368.2L590.8 368.2L593 368.3L595.3 368.3L597.5 368.3L599.7 368.3L601.9 368.3L604.1 368.3L606.3 368.3L608.5 368.3L610.7 368.3L612.9 368.3L615.1 368.3L617.3 368.3L619.5 368.3L621.8 368.3L624 368.3L626.2 368.3L628.4 368.3L630.6 368.3L632.4 368.3" stroke="#b0b0f0" stroke-width="1" fill="none"/>
<path d="M426.9 373.3L427 373.3L427.2 372.7L427.3 372.3L427.4 371.8L427.6 371.4L427.7 371L427.9 370.7L428 370.4L428.1 370.2L428.3 369.9L428.4 369.7L428.6 369.5L428.7 369.3L429 369L429.2 368.8L429.5 368.6L429.8 368.4L430.1 368.2L430.3 368.1L430.6 368L430.9 367.9L431.2 367.9L431.4 367.8L431.7 367.7L432 367.7L432.3 367.6L432.6 367.6L432.8 367.6L433.1 367.5L433.4 367.5L433.7 367.5L433.9 367.4L434.2 367.4L434.5 367.4L434.8 367.4L435 367.3L435.3 367.3L435.6 367.3L435.9 367.3L436.1 367.3L436.4 367.2L436.7 367.2L437 367.2L437.2 367.2L437.5 367.2L437.8 367.1L438.1 367.1L438.6 367.1L439.2 367L439.7 367L440.3 367L440.8 366.9L441.4 366.9L441.9 366.9L442.5 366.8L443 366.8L443.6 366.8L444.1 366.7L444.7 366.7L445.2 366.7L445.8 366.6L446.4 366.6L446.9 366.6L447.5 366.6L448 366.5L448.6 366.5L449.1 366.5L449.7 366.4L450.2 366.4L450.8 366.4L451.3 366.4L451.9 366.3L452.4 366.3L453 366.3L453.5 366.3L454.1 366.2L454.6 366.2L455.2 366.2L455.7 366.2L456.3 366.2L456.8 366.1L457.4 366.1L457.9 366.1L458.5 366.1L459 366.1L459.6 366L460.2 366L460.7 366L461.3 366L461.8 366L462.4 365.9L462.9 365.9L463.5 365.9L464 365.9L464.6 365.9L465.1 365.9L465.7 365.8L466.2 365.8L466.8 365.8L467.3 365.8L467.9 365.8L468.4 365.8L469 365.7L469.5 365.7L470.1 365.7L470.6 365.7L471.2 365.7L471.7 365.7L472.3 365.7L472.8 365.6L473.4 365.6L474 365.6L474.5 365.6L475.1 365.6L475.6 365.6L476.2 365.6L476.2 364.3L476.6 366.6L476.9 366.7L477.1 366.7L477.4 366.7L477.7 366.7L478 366.7L478.2 366.8L478.5 366.8L478.8 366.8L479.1 366.8L479.3 366.8L479.6 366.8L479.9 366.8L480.2 366.9L480.4 366.9L480.7 366.9L481 366.9L481.3 366.9L481.5 366.9L481.8 366.9L482.1 366.9L482.4 366.9L482.6 367L482.9 367L483.2 367L483.5 367L483.8 367L484 367L484.3 367L484.6 367L484.9 367L485.7 367L486.5 367.1L487.3 367.1L488.2 367.1L489 367.1L489.8 367.1L490.6 367.1L491.5 367.1L492.3 367.1L493.1 367.1L494 367.1L494.8 367.2L495.6 367.2L496.4 367.2L497.3 367.2L498.1 367.2L498.9 367.2L499.8 367.2L500.6 367.2L501.4 367.2L502.2 367.2L503.1 367.2L503.9 367.2L504.7 367.2L505.6 367.2L506.4 367.2L507.2 367.2L508 367.2L508.9 367.2L509.7 367.2L510.5 367.2L511.4 367.2L512.2 367.2L513 367.3L513.8 367.3L514.7 367.3L515.5 367.3L516.3 367.3L517.1 367.3L518 367.3L520.2 367.3L522.4 367.3L524.6 367.3L526.8 367.3L529 367.3L531.2 367.3L533.4 367.3L535.6 367.3L537.8 367.3L540.1 367.3L542.3 367.3L544.5 367.3L546.7 367.4L548.9 367.4L551.1 367.4L553.3 367.4L555.5 367.4L557.7 367.4L559.9 367.4L562.1 367.4L564.3 367.4L566.5 367.4L568.8 367.4L571 367.4L573.2 367.4L575.4 367.4L577.6 367.4L579.8 367.4L582 367.4L584.2 367.4L586.4 367.4L588.6 367.4L590.8 367.4L593 367.4L595.3 367.4L597.5 367.4L599.7 367.4L601.9 367.4L604.1 367.4L606.3 367.4L608.5 367.4L610.7 367.4L612.9 367.4L615.1 367.4L617.3 367.4L619.5 367.4L621.8 367.4L624 367.4L626.2 367.4L628.4 367.4L630.6 367.4L632.4 367.4" stroke="#9c9cf4" stroke-width="1" fill="none"/>
<path d="M426.9 373.3L427 373.3L427.2 371.6L427.3 370.3L427.4 369.2L427.6 368.3L427.7 367.6L427.9 367L428 366.5L428.1 366.1L428.3 365.7L428.4 365.4L428.6 365.2L428.7 365L429 364.7L429.2 364.4L429.5 364.2L429.8 364.1L430.1 363.9L430.3 363.8L430.6 363.7L430.9 363.6L431.2 363.5L431.4 363.4L431.7 363.3L432 363.2L432.3 363.1L432.6 363L432.8 362.9L433.1 362.8L433.4 362.7L433.7 362.6L433.9 362.5L434.2 362.4L434.5 362.4L434.8 362.3L435 362.2L435.3 362.1L435.6 362L435.9 362L436.1 361.9L436.4 361.8L436.7 361.7L437 361.7L437.2 361.6L437.5 361.5L437.8 361.4L438.1 361.4L438.6 361.2L439.2 361.1L439.7 361L440.3 360.9L440.8 360.8L441.4 360.7L441.9 360.5L442.5 360.4L443 360.3L443.6 360.2L444.1 360.1L444.7 360.1L445.2 360L445.8 359.9L446.4 359.8L446.9 359.7L447.5 359.6L448 359.6L448.6 359.5L449.1 359.4L449.7 359.3L450.2 359.3L450.8 359.2L451.3 359.2L451.9 359.1L452.4 359L453 359L453.5 358.9L454.1 358.9L454.6 358.8L455.2 358.8L455.7 358.7L456.3 358.7L456.8 358.6L457.4 358.6L457.9 358.5L458.5 358.5L459 358.5L459.6 358.4L460.2 358.4L460.7 358.4L461.3 358.3L461.8 358.3L462.4 358.3L462.9 358.2L463.5 358.2L464 358.2L464.6 358.1L465.1 358.1L465.7 358.1L466.2 358.1L466.8 358L467.3 358L467.9 358L468.4 358L469 357.9L469.5 357.9L470.1 357.9L470.6 357.9L471.2 357.9L471.7 357.8L472.3 357.8L472.8 357.8L473.4 357.8L474 357.8L474.5 357.8L475.1 357.7L475.6 357.7L476.2 357.7L476.2 356.5L476.6 361.6L476.9 361.7L477.1 361.7L477.4 361.8L477.7 361.8L478 361.9L478.2 361.9L478.5 361.9L478.8 362L479.1 362L479.3 362L479.6 362.1L479.9 362.1L480.2 362.1L480.4 362.1L480.7 362.2L481 362.2L481.3 362.2L481.5 362.2L481.8 362.3L482.1 362.3L482.4 362.3L482.6 362.3L482.9 362.3L483.2 362.3L483.5 362.4L483.8 362.4L484 362.4L484.3 362.4L484.6 362.4L484.9 362.4L485.7 362.5L486.5 362.5L487.3 362.5L488.2 362.6L489 362.6L489.8 362.6L490.6 362.6L491.5 362.7L492.3 362.7L493.1 362.7L494 362.7L494.8 362.7L495.6 362.7L496.4 362.8L497.3 362.8L498.1 362.8L498.9 362.8L499.8 362.8L500.6 362.8L501.4 362.8L502.2 362.8L503.1 362.8L503.9 362.8L504.7 362.9L505.6 362.9L506.4 362.9L507.2 362.9L508 362.9L508.9 362.9L509.7 362.9L510.5 362.9L511.4 362.9L512.2 362.9L513 362.9L513.8 362.9L514.7 362.9L515.5 363L516.3 363L517.1 363L518 363L520.2 363L522.4 363L524.6 363L526.8 363L529 363L531.2 363.1L533.4 363.1L535.6 363.1L537.8 363.1L540.1 363.1L542.3 363.1L544.5 363.1L546.7 363.1L548.9 363.2L551.1 363.2L553.3 363.2L555.5 363.2L557.7 363.2L559.9 363.2L562.1 363.2L564.3 363.2L566.5 363.2L568.8 363.2L571 363.2L573.2 363.2L575.4 363.2L577.6 363.2L579.8 363.3L582 363.3L584.2 363.3L586.4 363.3L588.6 363.3L590.8 363.3L593 363.3L595.3 363.3L597.5 363.3L599.7 363.3L601.9 363.3L604.1 363.3L606.3 363.3L608.5 363.3L610.7 363.3L612.9 363.3L615.1 363.3L617.3 363.3L619.5 363.3L621.8 363.3L624 363.3L626.2 363.3L628.4 363.3L630.6 363.3L632.4 363.3" stroke="#f4a4f4" stroke-width="1" fill="none"/>
<path d="M426.9 373.3L427 373.3L427.2 371.5L427.3 369.9L427.4 368.7L427.6 367.6L427.7 366.7L427.9 366L428 365.3L428.1 364.8L428.3 364.4L428.4 364L428.6 363.7L428.7 363.4L429 362.9L429.2 362.6L429.5 362.3L429.8 362.1L430.1 361.9L430.3 361.8L430.6 361.6L430.9 361.5L431.2 361.4L431.4 361.2L431.7 361.1L432 361L432.3 360.9L432.6 360.8L432.8 360.7L433.1 360.6L433.4 360.5L433.7 360.4L433.9 360.3L434.2 360.2L434.5 360.1L434.8 360.1L435 360L435.3 359.9L435.6 359.8L435.9 359.7L436.1 359.6L436.4 359.5L436.7 359.5L437 359.4L437.2 359.3L437.5 359.2L437.8 359.1L438.1 359.1L438.6 358.9L439.2 358.8L439.7 358.6L440.3 358.5L440.8 358.3L441.4 358.2L441.9 358.1L442.5 357.9L443 357.8L443.6 357.7L444.1 357.6L444.7 357.5L445.2 357.4L445.8 357.2L446.4 357.1L446.9 357L447.5 356.9L448 356.8L448.6 356.7L449.1 356.6L449.7 356.6L450.2 356.5L450.8 356.4L451.3 356.3L451.9 356.2L452.4 356.1L453 356.1L453.5 356L454.1 355.9L454.6 355.8L455.2 355.8L455.7 355.7L456.3 355.6L456.8 355.6L457.4 355.5L457.9 355.4L458.5 355.4L459 355.3L459.6 355.3L460.2 355.2L460.7 355.1L461.3 355.1L461.8 355L462.4 355L462.9 354.9L463.5 354.9L464 354.8L464.6 354.8L465.1 354.8L465.7 354.7L466.2 354.7L466.8 354.6L467.3 354.6L467.9 354.6L468.4 354.5L469 354.5L469.5 354.4L470.1 354.4L470.6 354.4L471.2 354.3L471.7 354.3L472.3 354.3L472.8 354.2L473.4 354.2L474 354.2L474.5 354.2L475.1 354.1L475.6 354.1L476.2 354.1L476.2 352.4L476.6 358.7L476.9 358.8L477.1 358.8L477.4 358.9L477.7 358.9L478 358.9L478.2 359L478.5 359L478.8 359L479.1 359.1L479.3 359.1L479.6 359.1L479.9 359.1L480.2 359.2L480.4 359.2L480.7 359.2L481 359.2L481.3 359.3L481.5 359.3L481.8 359.3L482.1 359.3L482.4 359.3L482.6 359.4L482.9 359.4L483.2 359.4L483.5 359.4L483.8 359.4L484 359.4L484.3 359.5L484.6 359.5L484.9 359.5L485.7 359.5L486.5 359.6L487.3 359.6L488.2 359.6L489 359.6L489.8 359.7L490.6 359.7L491.5 359.7L492.3 359.7L493.1 359.7L494 359.7L494.8 359.8L495.6 359.8L496.4 359.8L497.3 359.8L498.1 359.8L498.9 359.8L499.8 359.8L500.6 359.8L501.4 359.8L502.2 359.9L503.1 359.9L503.9 359.9L504.7 359.9L505.6 359.9L506.4 359.9L507.2 359.9L508 359.9L508.9 359.9L509.7 359.9L510.5 359.9L511.4 359.9L512.2 360L513 360L513.8 360L514.7 360L515.5 360L516.3 360L517.1 360L518 360L520.2 360L522.4 360L524.6 360L526.8 360.1L529 360.1L531.2 360.1L533.4 360.1L535.6 360.1L537.8 360.1L540.1 360.1L542.3 360.1L544.5 360.1L546.7 360.2L548.9 360.2L551.1 360.2L553.3 360.2L555.5 360.2L557.7 360.2L559.9 360.2L562.1 360.2L564.3 360.2L566.5 360.2L568.8 360.2L571 360.2L573.2 360.2L575.4 360.2L577.6 360.3L579.8 360.3L582 360.3L584.2 360.3L586.4 360.3L588.6 360.3L590.8 360.3L593 360.3L595.3 360.3L597.5 360.3L599.7 360.3L601.9 360.3L604.1 360.3L606.3 360.3L608.5 360.3L610.7 360.3L612.9 360.3L615.1 360.3L617.3 360.3L619.5 360.3L621.8 360.3L624 360.3L626.2 360.3L628.4 360.3L630.6 360.3L632.4 360.3" stroke="#c890d8" stroke-width="1" fill="none"/>
<path d="M426.9 373.3L427 373.3L427.2 371.1L427.3 369.3L427.4 367.8L427.6 366.5L427.7 365.4L427.9 364.5L428 363.7L428.1 363L428.3 362.4L428.4 361.9L428.6 361.5L428.7 361.1L429 360.5L429.2 360L429.5 359.6L429.8 359.3L430.1 359.1L430.3 358.8L430.6 358.6L430.9 358.4L431.2 358.3L431.4 358.1L431.7 357.9L432 357.8L432.3 357.6L432.6 357.5L432.8 357.4L433.1 357.2L433.4 357.1L433.7 356.9L433.9 356.8L434.2 356.7L434.5 356.6L434.8 356.4L435 356.3L435.3 356.2L435.6 356.1L435.9 355.9L436.1 355.8L436.4 355.7L436.7 355.6L437 355.5L437.2 355.3L437.5 355.2L437.8 355.1L438.1 355L438.6 354.8L439.2 354.6L439.7 354.4L440.3 354.1L440.8 353.9L441.4 353.7L441.9 353.6L442.5 353.4L443 353.2L443.6 353L444.1 352.8L444.7 352.7L445.2 352.5L445.8 352.3L446.4 352.2L446.9 352L447.5 351.8L448 351.7L448.6 351.5L449.1 351.4L449.7 351.3L450.2 351.1L450.8 351L451.3 350.8L451.9 350.7L452.4 350.6L453 350.5L453.5 350.3L454.1 350.2L454.6 350.1L455.2 350L455.7 349.9L456.3 349.8L456.8 349.7L457.4 349.6L457.9 349.5L458.5 349.4L459 349.3L459.6 349.2L460.2 349.1L460.7 349L461.3 348.9L461.8 348.8L462.4 348.7L462.9 348.6L463.5 348.5L464 348.5L464.6 348.4L465.1 348.3L465.7 348.2L466.2 348.2L466.8 348.1L467.3 348L467.9 347.9L468.4 347.9L469 347.8L469.5 347.7L470.1 347.7L470.6 347.6L471.2 347.6L471.7 347.5L472.3 347.4L472.8 347.4L473.4 347.3L474 347.3L474.5 347.2L475.1 347.2L475.6 347.1L476.2 347.1L476.2 344.6L476.6 353.1L476.9 353.2L477.1 353.3L477.4 353.3L477.7 353.4L478 353.5L478.2 353.6L478.5 353.6L478.8 353.7L479.1 353.7L479.3 353.8L479.6 353.8L479.9 353.9L480.2 353.9L480.4 354L480.7 354L481 354.1L481.3 354.1L481.5 354.2L481.8 354.2L482.1 354.2L482.4 354.3L482.6 354.3L482.9 354.3L483.2 354.4L483.5 354.4L483.8 354.4L484 354.5L484.3 354.5L484.6 354.5L484.9 354.5L485.7 354.6L486.5 354.7L487.3 354.7L488.2 354.8L489 354.8L489.8 354.9L490.6 354.9L491.5 354.9L492.3 355L493.1 355L494 355L494.8 355L495.6 355.1L496.4 355.1L497.3 355.1L498.1 355.1L498.9 355.2L499.8 355.2L500.6 355.2L501.4 355.2L502.2 355.2L503.1 355.2L503.9 355.3L504.7 355.3L505.6 355.3L506.4 355.3L507.2 355.3L508 355.3L508.9 355.3L509.7 355.4L510.5 355.4L511.4 355.4L512.2 355.4L513 355.4L513.8 355.4L514.7 355.4L515.5 355.5L516.3 355.5L517.1 355.5L518 355.5L520.2 355.5L522.4 355.5L524.6 355.6L526.8 355.6L529 355.6L531.2 355.6L533.4 355.7L535.6 355.7L537.8 355.7L540.1 355.7L542.3 355.7L544.5 355.8L546.7 355.8L548.9 355.8L551.1 355.8L553.3 355.8L555.5 355.8L557.7 355.9L559.9 355.9L562.1 355.9L564.3 355.9L566.5 355.9L568.8 355.9L571 355.9L573.2 356L575.4 356L577.6 356L579.8 356L582 356L584.2 356L586.4 356L588.6 356L590.8 356L593 356L595.3 356L597.5 356L599.7 356.1L601.9 356.1L604.1 356.1L606.3 356.1L608.5 356.1L610.7 356.1L612.9 356.1L615.1 356.1L617.3 356.1L619.5 356.1L621.8 356.1L624 356.1L626.2 356.1L628.4 356.1L630.6 356.1L632.4 356.1" stroke="#a4e4e8" stroke-width="1" fill="none"/>
<path d="M426.9 373.3L427 373.3L427.2 369.5L427.3 366.4L427.4 364L427.6 362L427.7 360.4L427.9 359.2L428 358.1L428.1 357.3L428.3 356.6L428.4 356L428.6 355.6L428.7 355.2L429 354.5L429.2 354L429.5 353.6L429.8 353.3L430.1 353L430.3 352.7L430.6 352.5L430.9 352.2L431.2 352L431.4 351.7L431.7 351.5L432 351.3L432.3 351L432.6 350.8L432.8 350.6L433.1 350.4L433.4 350.2L433.7 349.9L433.9 349.7L434.2 349.5L434.5 349.3L434.8 349.1L435 348.9L435.3 348.7L435.6 348.5L435.9 348.3L436.1 348.1L436.4 347.9L436.7 347.7L437 347.5L437.2 347.3L437.5 347.1L437.8 346.9L438.1 346.8L438.6 346.4L439.2 346L439.7 345.7L440.3 345.3L440.8 345L441.4 344.7L441.9 344.3L442.5 344L443 343.7L443.6 343.4L444.1 343.1L444.7 342.8L445.2 342.5L445.8 342.2L446.4 341.9L446.9 341.6L447.5 341.4L448 341.1L448.6 340.8L449.1 340.6L449.7 340.3L450.2 340.1L450.8 339.8L451.3 339.6L451.9 339.4L452.4 339.1L453 338.9L453.5 338.7L454.1 338.5L454.6 338.3L455.2 338.1L455.7 337.8L456.3 337.6L456.8 337.4L457.4 337.2L457.9 337.1L458.5 336.9L459 336.7L459.6 336.5L460.2 336.3L460.7 336.2L461.3 336L461.8 335.8L462.4 335.7L462.9 335.5L463.5 335.3L464 335.2L464.6 335L465.1 334.9L465.7 334.7L466.2 334.6L466.8 334.4L467.3 334.3L467.9 334.2L468.4 334L469 333.9L469.5 333.8L470.1 333.6L470.6 333.5L471.2 333.4L471.7 333.3L472.3 333.2L472.8 333L473.4 332.9L474 332.8L474.5 332.7L475.1 332.6L475.6 332.5L476.2 332.4L476.2 329.5L476.6 339.6L476.9 339.7L477.1 339.9L477.4 340.1L477.7 340.3L478 340.4L478.2 340.5L478.5 340.7L478.8 340.8L479.1 341L479.3 341.1L479.6 341.2L479.9 341.3L480.2 341.4L480.4 341.5L480.7 341.6L481 341.7L481.3 341.8L481.5 341.9L481.8 342L482.1 342L482.4 342.1L482.6 342.2L482.9 342.3L483.2 342.3L483.5 342.4L483.8 342.5L484 342.5L484.3 342.6L484.6 342.6L484.9 342.7L485.7 342.8L486.5 343L487.3 343.1L488.2 343.2L489 343.3L489.8 343.4L490.6 343.5L491.5 343.6L492.3 343.6L493.1 343.7L494 343.8L494.8 343.8L495.6 343.9L496.4 343.9L497.3 344L498.1 344L498.9 344.1L499.8 344.1L500.6 344.1L501.4 344.2L502.2 344.2L503.1 344.3L503.9 344.3L504.7 344.3L505.6 344.4L506.4 344.4L507.2 344.4L508 344.5L508.9 344.5L509.7 344.5L510.5 344.5L511.4 344.6L512.2 344.6L513 344.6L513.8 344.7L514.7 344.7L515.5 344.7L516.3 344.7L517.1 344.8L518 344.8L520.2 344.8L522.4 344.9L524.6 345L526.8 345L529 345.1L531.2 345.1L533.4 345.2L535.6 345.2L537.8 345.3L540.1 345.3L542.3 345.4L544.5 345.4L546.7 345.4L548.9 345.5L551.1 345.5L553.3 345.5L555.5 345.6L557.7 345.6L559.9 345.6L562.1 345.7L564.3 345.7L566.5 345.7L568.8 345.8L571 345.8L573.2 345.8L575.4 345.8L577.6 345.8L579.8 345.9L582 345.9L584.2 345.9L586.4 345.9L588.6 345.9L590.8 346L593 346L595.3 346L597.5 346L599.7 346L601.9 346L604.1 346.1L606.3 346.1L608.5 346.1L610.7 346.1L612.9 346.1L615.1 346.1L617.3 346.1L619.5 346.1L621.8 346.1L624 346.2L626.2 346.2L628.4 346.2L630.6 346.2L632.4 346.2" stroke="#f2d0a4" stroke-width="1" fill="none"/>
<path d="M426.9 373.3L427 373.3L427.2 367.3L427.3 362.7L427.4 359L427.6 356.1L427.7 353.8L427.9 352L428 350.6L428.1 349.4L428.3 348.5L428.4 347.7L428.6 347.1L428.7 346.6L429 345.7L429.2 345.1L429.5 344.7L429.8 344.3L430.1 343.9L430.3 343.6L430.6 343.2L430.9 342.9L431.2 342.6L431.4 342.4L431.7 342.1L432 341.8L432.3 341.5L432.6 341.2L432.8 341L433.1 340.7L433.4 340.4L433.7 340.1L433.9 339.9L434.2 339.6L434.5 339.3L434.8 339.1L435 338.8L435.3 338.5L435.6 338.3L435.9 338L436.1 337.7L436.4 337.5L436.7 337.2L437 337L437.2 336.7L437.5 336.4L437.8 336.2L438.1 335.9L438.6 335.4L439.2 334.9L439.7 334.4L440.3 334L440.8 333.5L441.4 333L441.9 332.5L442.5 332.1L443 331.6L443.6 331.1L444.1 330.7L444.7 330.2L445.2 329.8L445.8 329.3L446.4 328.9L446.9 328.5L447.5 328L448 327.6L448.6 327.2L449.1 326.8L449.7 326.4L450.2 326L450.8 325.5L451.3 325.1L451.9 324.8L452.4 324.4L453 324L453.5 323.6L454.1 323.2L454.6 322.8L455.2 322.4L455.7 322.1L456.3 321.7L456.8 321.3L457.4 321L457.9 320.6L458.5 320.3L459 319.9L459.6 319.6L460.2 319.2L460.7 318.9L461.3 318.6L461.8 318.2L462.4 317.9L462.9 317.6L463.5 317.2L464 316.9L464.6 316.6L465.1 316.3L465.7 316L466.2 315.7L466.8 315.4L467.3 315.1L467.9 314.8L468.4 314.5L469 314.2L469.5 313.9L470.1 313.6L470.6 313.3L471.2 313L471.7 312.7L472.3 312.5L472.8 312.2L473.4 311.9L474 311.6L474.5 311.4L475.1 311.1L475.6 310.8L476.2 310.6L476.2 307.7L476.6 322.9L476.9 323.2L477.1 323.4L477.4 323.7L477.7 323.9L478 324.1L478.2 324.3L478.5 324.5L478.8 324.7L479.1 324.9L479.3 325.1L479.6 325.2L479.9 325.4L480.2 325.6L480.4 325.7L480.7 325.8L481 326L481.3 326.1L481.5 326.2L481.8 326.3L482.1 326.5L482.4 326.6L482.6 326.7L482.9 326.8L483.2 326.9L483.5 327L483.8 327.1L484 327.1L484.3 327.2L484.6 327.3L484.9 327.4L485.7 327.6L486.5 327.8L487.3 328L488.2 328.1L489 328.3L489.8 328.4L490.6 328.5L491.5 328.6L492.3 328.7L493.1 328.8L494 328.9L494.8 329L495.6 329.1L496.4 329.1L497.3 329.2L498.1 329.3L498.9 329.3L499.8 329.4L500.6 329.5L501.4 329.5L502.2 329.6L503.1 329.6L503.9 329.7L504.7 329.7L505.6 329.8L506.4 329.8L507.2 329.9L508 329.9L508.9 330L509.7 330L510.5 330L511.4 330.1L512.2 330.1L513 330.2L513.8 330.2L514.7 330.2L515.5 330.3L516.3 330.3L517.1 330.3L518 330.4L520.2 330.5L522.4 330.6L524.6 330.6L526.8 330.7L529 330.8L531.2 330.9L533.4 330.9L535.6 331L537.8 331.1L540.1 331.1L542.3 331.2L544.5 331.3L546.7 331.3L548.9 331.4L551.1 331.4L553.3 331.5L555.5 331.5L557.7 331.6L559.9 331.6L562.1 331.7L564.3 331.7L566.5 331.7L568.8 331.8L571 331.8L573.2 331.8L575.4 331.9L577.6 331.9L579.8 331.9L582 332L584.2 332L586.4 332L588.6 332L590.8 332.1L593 332.1L595.3 332.1L597.5 332.1L599.7 332.2L601.9 332.2L604.1 332.2L606.3 332.2L608.5 332.2L610.7 332.3L612.9 332.3L615.1 332.3L617.3 332.3L619.5 332.3L621.8 332.3L624 332.4L626.2 332.4L628.4 332.4L630.6 332.4L632.4 332.4" stroke="#dcdcdc" stroke-width="1" fill="none"/>
<path d="M426.9 373.3L427 373.3L427.2 363.8L427.3 356.7L427.4 351.3L427.6 347.3L427.7 344.2L427.9 341.9L428 340.1L428.1 338.6L428.3 337.5L428.4 336.6L428.6 335.8L428.7 335.2L429 334.1L429.2 333.3L429.5 332.6L429.8 331.9L430.1 331.3L430.3 330.7L430.6 330.2L430.9 329.6L431.2 329.1L431.4 328.5L431.7 328L432 327.4L432.3 326.9L432.6 326.4L432.8 325.8L433.1 325.3L433.4 324.8L433.7 324.3L433.9 323.8L434.2 323.3L434.5 322.8L434.8 322.3L435 321.9L435.3 321.4L435.6 320.9L435.9 320.4L436.1 320L436.4 319.5L436.7 319L437 318.6L437.2 318.1L437.5 317.7L437.8 317.3L438.1 316.8L438.6 316L439.2 315.1L439.7 314.3L440.3 313.5L440.8 312.7L441.4 311.9L441.9 311.2L442.5 310.4L443 309.7L443.6 308.9L444.1 308.2L444.7 307.5L445.2 306.9L445.8 306.2L446.4 305.5L446.9 304.9L447.5 304.3L448 303.6L448.6 303L449.1 302.4L449.7 301.8L450.2 301.3L450.8 300.7L451.3 300.1L451.9 299.6L452.4 299.1L453 298.5L453.5 298L454.1 297.5L454.6 297L455.2 296.5L455.7 296.1L456.3 295.6L456.8 295.1L457.4 294.7L457.9 294.3L458.5 293.8L459 293.4L459.6 293L460.2 292.6L460.7 292.2L461.3 291.8L461.8 291.4L462.4 291L462.9 290.6L463.5 290.3L464 289.9L464.6 289.6L465.1 289.2L465.7 288.9L466.2 288.6L466.8 288.2L467.3 287.9L467.9 287.6L468.4 287.3L469 287L469.5 286.7L470.1 286.4L470.6 286.1L471.2 285.8L471.7 285.6L472.3 285.3L472.8 285L473.4 284.8L474 284.5L474.5 284.3L475.1 284L475.6 283.8L476.2 283.5L476.2 278.1L476.6 299.6L476.9 300L477.1 300.3L477.4 300.6L477.7 301L478 301.3L478.2 301.6L478.5 301.9L478.8 302.1L479.1 302.4L479.3 302.6L479.6 302.9L479.9 303.1L480.2 303.3L480.4 303.5L480.7 303.7L481 303.9L481.3 304.1L481.5 304.3L481.8 304.4L482.1 304.6L482.4 304.8L482.6 304.9L482.9 305.1L483.2 305.2L483.5 305.3L483.8 305.5L484 305.6L484.3 305.7L484.6 305.8L484.9 305.9L485.7 306.2L486.5 306.5L487.3 306.7L488.2 307L489 307.2L489.8 307.3L490.6 307.5L491.5 307.7L492.3 307.8L493.1 307.9L494 308.1L494.8 308.2L495.6 308.3L496.4 308.4L497.3 308.5L498.1 308.6L498.9 308.7L499.8 308.8L500.6 308.8L501.4 308.9L502.2 309L503.1 309.1L503.9 309.1L504.7 309.2L505.6 309.3L506.4 309.3L507.2 309.4L508 309.5L508.9 309.5L509.7 309.6L510.5 309.7L511.4 309.7L512.2 309.8L513 309.8L513.8 309.9L514.7 309.9L515.5 310L516.3 310L517.1 310.1L518 310.1L520.2 310.3L522.4 310.4L524.6 310.5L526.8 310.6L529 310.7L531.2 310.8L533.4 310.9L535.6 311L537.8 311.1L540.1 311.2L542.3 311.3L544.5 311.4L546.7 311.5L548.9 311.5L551.1 311.6L553.3 311.7L555.5 311.8L557.7 311.8L559.9 311.9L562.1 311.9L564.3 312L566.5 312.1L568.8 312.1L571 312.2L573.2 312.2L575.4 312.3L577.6 312.3L579.8 312.3L582 312.4L584.2 312.4L586.4 312.5L588.6 312.5L590.8 312.5L593 312.6L595.3 312.6L597.5 312.6L599.7 312.7L601.9 312.7L604.1 312.7L606.3 312.7L608.5 312.8L610.7 312.8L612.9 312.8L615.1 312.8L617.3 312.9L619.5 312.9L621.8 312.9L624 312.9L626.2 312.9L628.4 313L630.6 313L632.4 313" stroke="#d0a0d4" stroke-width="1" fill="none"/>
<path d="M426.9 373.3L427 385.8L427 373.3L427.2 356.7L427.3 345.4L427.4 337.6L427.6 332.2L427.7 328.5L427.9 325.8L428 323.8L428.1 322.3L428.3 321.1L428.4 320.2L428.6 319.4L428.7 318.7L429 317.5L429.2 316.4L429.5 315.4L429.8 314.5L430.1 313.5L430.3 312.6L430.6 311.6L430.9 310.7L431.2 309.8L431.4 308.9L431.7 308.1L432 307.2L432.3 306.3L432.6 305.5L432.8 304.6L433.1 303.8L433.4 303L433.7 302.1L433.9 301.3L434.2 300.5L434.5 299.7L434.8 299L435 298.2L435.3 297.4L435.6 296.7L435.9 295.9L436.1 295.2L436.4 294.4L436.7 293.7L437 293L437.2 292.3L437.5 291.6L437.8 290.9L438.1 290.2L438.6 288.9L439.2 287.5L439.7 286.2L440.3 285L440.8 283.7L441.4 282.5L441.9 281.3L442.5 280.2L443 279.1L443.6 277.9L444.1 276.9L444.7 275.8L445.2 274.8L445.8 273.7L446.4 272.7L446.9 271.8L447.5 270.8L448 269.9L448.6 269L449.1 268.1L449.7 267.2L450.2 266.4L450.8 265.5L451.3 264.7L451.9 263.9L452.4 263.1L453 262.4L453.5 261.6L454.1 260.9L454.6 260.2L455.2 259.5L455.7 258.8L456.3 258.1L456.8 257.4L457.4 256.8L457.9 256.2L458.5 255.6L459 255L459.6 254.4L460.2 253.8L460.7 253.2L461.3 252.7L461.8 252.1L462.4 251.6L462.9 251.1L463.5 250.6L464 250.1L464.6 249.6L465.1 249.1L465.7 248.7L466.2 248.2L466.8 247.8L467.3 247.3L467.9 246.9L468.4 246.5L469 246.1L469.5 245.7L470.1 245.3L470.6 244.9L471.2 244.6L471.7 244.2L472.3 243.8L472.8 243.5L473.4 243.1L474 242.8L474.5 242.5L475.1 242.2L475.6 241.9L476.2 241.6L476.2 233.6L476.6 264.6L476.9 265.1L477.1 265.5L477.4 266L477.7 266.4L478 266.8L478.2 267.2L478.5 267.5L478.8 267.9L479.1 268.2L479.3 268.6L479.6 268.9L479.9 269.2L480.2 269.4L480.4 269.7L480.7 270L481 270.2L481.3 270.5L481.5 270.7L481.8 270.9L482.1 271.1L482.4 271.3L482.6 271.5L482.9 271.7L483.2 271.9L483.5 272L483.8 272.2L484 272.4L484.3 272.5L484.6 272.7L484.9 272.8L485.7 273.2L486.5 273.5L487.3 273.9L488.2 274.1L489 274.4L489.8 274.6L490.6 274.9L491.5 275.1L492.3 275.3L493.1 275.4L494 275.6L494.8 275.7L495.6 275.9L496.4 276L497.3 276.1L498.1 276.3L498.9 276.4L499.8 276.5L500.6 276.6L501.4 276.7L502.2 276.8L503.1 276.9L503.9 277L504.7 277.1L505.6 277.2L506.4 277.2L507.2 277.3L508 277.4L508.9 277.5L509.7 277.6L510.5 277.6L511.4 277.7L512.2 277.8L513 277.9L513.8 277.9L514.7 278L515.5 278.1L516.3 278.1L517.1 278.2L518 278.3L520.2 278.4L522.4 278.6L524.6 278.7L526.8 278.9L529 279L531.2 279.2L533.4 279.3L535.6 279.4L537.8 279.6L540.1 279.7L542.3 279.8L544.5 279.9L546.7 280L548.9 280.1L551.1 280.2L553.3 280.3L555.5 280.4L557.7 280.4L559.9 280.5L562.1 280.6L564.3 280.7L566.5 280.7L568.8 280.8L571 280.9L573.2 280.9L575.4 281L577.6 281.1L579.8 281.1L582 281.2L584.2 281.2L586.4 281.3L588.6 281.3L590.8 281.4L593 281.4L595.3 281.5L597.5 281.5L599.7 281.5L601.9 281.6L604.1 281.6L606.3 281.6L608.5 281.7L610.7 281.7L612.9 281.7L615.1 281.8L617.3 281.8L619.5 281.8L621.8 281.9L624 281.9L626.2 281.9L628.4 281.9L630.6 282L632.4 282" stroke="#b4e8b4" stroke-width="1" fill="none"/>
<path d="M638.9 241.5 H650.4" stroke="#f4a4a0" stroke-width="1" fill="none"/>
<text x="653.51" y="246.1" font-size="14.1" textLength="6.85" lengthAdjust="spacingAndGlyphs">0</text>
<path d="M638.9 258.5 H650.4" stroke="#a0cca0" stroke-width="1" fill="none"/>
<text x="653.51" y="263.81" font-size="14.1" textLength="23.99" lengthAdjust="spacingAndGlyphs">0.01</text>
<path d="M638.9 277.5 H650.4" stroke="#9c9cf4" stroke-width="1" fill="none"/>
<text x="653.51" y="281.52" font-size="14.1" textLength="23.99" lengthAdjust="spacingAndGlyphs">0.02</text>
<path d="M638.9 294.5 H650.4" stroke="#f4a4f4" stroke-width="1" fill="none"/>
<text x="653.51" y="299.23" font-size="14.1" textLength="30.84" lengthAdjust="spacingAndGlyphs">0.039</text>
<path d="M638.9 312.5 H650.4" stroke="#a4e4e8" stroke-width="1" fill="none"/>
<text x="653.51" y="316.94" font-size="14.1" textLength="30.84" lengthAdjust="spacingAndGlyphs">0.078</text>
<path d="M638.9 330.5 H650.4" stroke="#f2d0a4" stroke-width="1" fill="none"/>
<text x="653.51" y="334.65" font-size="14.1" textLength="30.84" lengthAdjust="spacingAndGlyphs">0.156</text>
<path d="M638.9 347.5 H650.4" stroke="#dcdcdc" stroke-width="1" fill="none"/>
<text x="653.51" y="352.36" font-size="14.1" textLength="30.84" lengthAdjust="spacingAndGlyphs">0.313</text>
<path d="M638.9 365.5 H650.4" stroke="#d0a0d4" stroke-width="1" fill="none"/>
<text x="653.51" y="370.07" font-size="14.1" textLength="30.84" lengthAdjust="spacingAndGlyphs">0.625</text>
<path d="M638.9 383.5 H650.4" stroke="#b4e8b4" stroke-width="1" fill="none"/>
<text x="653.08" y="387.78" font-size="14.1" textLength="23.99" lengthAdjust="spacingAndGlyphs">1.25</text>
<text x="494.13" y="427" font-size="13.67" textLength="44.02" lengthAdjust="spacingAndGlyphs">Time (s)</text>
<text x="366.2" y="394.86" font-size="12.95" textLength="164.93" lengthAdjust="spacingAndGlyphs" transform="rotate(-90 366.2 394.86)">Response (RU, 0 = baseline)</text>
<text x="347.89" y="222.59" font-size="21.5" font-weight="bold" textLength="12.34" lengthAdjust="spacingAndGlyphs">d</text>
<path d="M49.45 618 H284.8" stroke="#d4d4d4" stroke-width="1.8" fill="none"/>
<path d="M49.45 453.4 V618 M48.25 467.1 H50.25 M48.25 494.52 H50.25 M48.25 521.94 H50.25 M48.25 549.36 H50.25 M48.25 576.78 H50.25 M48.25 604.2 H50.25 M47.45 453.39 H50.75 M47.45 480.81 H50.75 M47.45 508.23 H50.75 M47.45 535.65 H50.75 M47.45 563.07 H50.75 M47.45 590.49 H50.75 M47.45 617.91 H50.75" stroke="#a8a8a8" stroke-width="0.8" fill="none"/>
<path d="M49.45 617.5 V620.2 M56.35 617.5 V619.2 M63.25 617.5 V620.2 M70.15 617.5 V619.2 M77.05 617.5 V620.2 M83.95 617.5 V619.2 M90.85 617.5 V620.2 M97.75 617.5 V619.2 M104.65 617.5 V620.2 M111.55 617.5 V619.2 M118.45 617.5 V620.2 M125.35 617.5 V619.2 M132.25 617.5 V620.2 M139.15 617.5 V619.2 M146.05 617.5 V620.2 M152.95 617.5 V619.2 M159.85 617.5 V620.2 M166.75 617.5 V619.2 M173.65 617.5 V620.2 M180.55 617.5 V619.2 M187.45 617.5 V620.2 M194.35 617.5 V619.2 M201.25 617.5 V620.2 M208.15 617.5 V619.2 M215.05 617.5 V620.2 M221.95 617.5 V619.2 M228.85 617.5 V620.2 M235.75 617.5 V619.2 M242.65 617.5 V620.2 M249.55 617.5 V619.2 M256.45 617.5 V620.2 M263.35 617.5 V619.2 M270.25 617.5 V620.2 M277.15 617.5 V619.2 M284.05 617.5 V620.2" stroke="#b0b0b0" stroke-width="0.8" fill="none"/>
<text x="27.37" y="458.29" font-size="14.3" textLength="13.68" lengthAdjust="spacingAndGlyphs">55</text>
<text x="27.48" y="485.71" font-size="14.3" textLength="13.68" lengthAdjust="spacingAndGlyphs">45</text>
<text x="27.39" y="513.13" font-size="14.3" textLength="13.68" lengthAdjust="spacingAndGlyphs">35</text>
<text x="27.31" y="540.55" font-size="14.3" textLength="13.68" lengthAdjust="spacingAndGlyphs">25</text>
<text x="27.16" y="567.97" font-size="14.3" textLength="13.68" lengthAdjust="spacingAndGlyphs">15</text>
<text x="30.79" y="595.39" font-size="14.3" textLength="6.84" lengthAdjust="spacingAndGlyphs">5</text>
<text x="28.71" y="622.81" font-size="14.3" textLength="10.94" lengthAdjust="spacingAndGlyphs">-5</text>
<text x="46.02" y="635.5" font-size="12.3" textLength="6.84" lengthAdjust="spacingAndGlyphs">0</text>
<text x="66.56" y="635.5" font-size="12.3" textLength="20.52" lengthAdjust="spacingAndGlyphs">100</text>
<text x="94.32" y="635.5" font-size="12.3" textLength="20.52" lengthAdjust="spacingAndGlyphs">200</text>
<text x="121.99" y="635.5" font-size="12.3" textLength="20.52" lengthAdjust="spacingAndGlyphs">300</text>
<text x="149.69" y="635.5" font-size="12.3" textLength="20.52" lengthAdjust="spacingAndGlyphs">400</text>
<text x="177.18" y="635.5" font-size="12.3" textLength="20.52" lengthAdjust="spacingAndGlyphs">500</text>
<text x="204.72" y="635.5" font-size="12.3" textLength="20.52" lengthAdjust="spacingAndGlyphs">600</text>
<text x="232.32" y="635.5" font-size="12.3" textLength="20.52" lengthAdjust="spacingAndGlyphs">700</text>
<text x="259.96" y="635.5" font-size="12.3" textLength="20.52" lengthAdjust="spacingAndGlyphs">800</text>
<path d="M79 603.7L79.1 614.1L79.1 602.1L79.3 601.9L79.4 601.5L79.6 602L79.7 601.9L79.8 601.8L80 602.3L80.1 601.9L80.3 601.7L80.4 601.5L80.5 602.3L80.7 602.1L80.8 602.3L81.2 601.4L81.6 601.5L82 602.3L82.5 601.1L82.9 601.1L83.3 601.4L83.7 601.5L84.1 602L84.5 602.1L84.9 601.5L85.4 602L85.8 601.9L86.2 601.8L86.6 602L87 601.5L87.4 601.5L87.8 601L88.3 601.4L88.7 601.2L89.1 601.4L89.5 601.2L89.9 601.4L90.3 601.6L91.2 600.7L92 600.7L92.8 600.9L93.6 601L94.5 601.5L95.3 601.6L96.1 601.5L96.9 601.7L97.8 600.9L98.6 601.3L99.4 600.8L100.3 601.3L101.1 600.6L101.9 600.7L102.7 601.7L103.6 601.5L104.4 600.6L105.2 601.1L106.1 600.5L106.9 601.2L107.7 601.6L108.5 600.9L109.4 600.7L110.2 601.3L111 601.6L111.9 601.2L112.7 600.5L113.5 600.7L114.3 601.5L115.2 601.3L116 601.5L116.8 601.5L117.6 600.6L118.5 601.4L119.3 600.9L120.1 601L121 601.3L121.8 600.7L122.6 601.4L123.4 600.8L124.3 601.4L125.1 601L125.9 601.3L126.8 601.2L127.6 600.4L128.4 600.6L129.2 600.9L129.3 606.4L129.5 601.2L129.8 600.4L130 601.4L130.3 601.2L130.6 600.6L130.9 601L131.1 601.8L131.4 600.6L131.7 601.7L132 601.6L132.2 601L132.5 601.6L132.8 601.7L133.1 602L133.4 602L133.6 601.4L133.9 601.9L134.2 601.4L134.5 601.7L134.7 601.6L135 600.9L135.3 601.6L135.6 601.5L135.8 601.1L136.1 602.1L136.4 602.1L136.7 601.1L136.9 601.2L137.2 602L137.5 602.1L137.8 601.4L138.5 601.1L139.2 602.2L139.8 601.1L140.5 601.3L141.2 601.7L141.9 601.9L142.6 602.4L143.3 602.5L144 601.2L144.7 602.2L145.4 601.6L146.1 602.2L146.7 601.4L147.4 601.7L148.1 602.1L148.8 602.3L149.5 601.5L150.2 602.4L150.9 602.2L151.6 601.8L152.3 601.4L153 601.7L153.6 602.1L154.3 601.3L155 602.2L155.7 602.5L156.4 602.1L157.1 601.9L157.8 602.4L158.5 602.3L159.2 602L159.9 601.7L160.5 602.3L161.2 602L161.9 601.3L162.6 601.1L163.3 601.6L164 601.5L164.7 601.7L165.4 602.3L166.1 602.4L166.8 602.4L167.4 601.2L168.1 601.5L168.8 601.1L169.5 602.4L170.2 601.5L170.9 601.7L171.6 601.4L172.3 601.9L173 601L173.7 602.2L174.3 601.6L175 601.3L175.7 601.1L176.4 601.3L177.1 601.3L177.8 601.2L178.5 601L179.2 601.8L179.9 601.3L180.6 601L181.2 601L181.9 601.7L182.6 601.1L183.3 601L184 601.4L184.7 601.3L185.4 601.6L186.1 601.4L186.8 601.3L187.4 602L188.1 601.2L188.8 600.7L189.5 600.9L190.2 601.1L190.9 601.5L191.6 601.1L192.3 601.3L193 601.4L193.7 600.9L194.4 601.9L195 601L195.7 601.9L196.4 601.1L197.1 601.3L197.8 601.6L198.5 601L199.2 601.2L199.9 601.1L200.6 600.6L201.2 601.5L201.9 601.8L202.6 601.4L203.3 600.9L204 601.5L204.7 601.6L205.4 600.5L206.1 600.9L206.8 601.2L207.5 600.5L208.2 601.3L208.8 600.8L209.5 601.4L210.2 601.1L210.9 600.6L211.6 600.4L212.3 600.4L213 601.1L213.7 600.8L214.4 601.2L215.1 601.4L215.7 600.9L216.4 600.4L217.1 600.4L217.8 600.6L218.5 600.2L219.2 601.1L219.9 601.2L220.6 600.8L221.3 601.1L222 601.1L222.6 600.9L223.3 600.5L224 600.7L224.7 600.9L225.4 600.2L226.1 600L226.8 600.7L227.5 601.2L228.2 601.3L228.9 600.1L229.5 601.2L230.2 600.3L230.9 600.5L231.6 600.8L232.3 600.1L233 601.2L233.7 601L234.4 600.5L235.1 601.1L235.8 600L236.4 600.8L237.1 600.9L237.8 601L238.5 600.2L239.2 600.4L239.9 600.2L240.6 600.1L241.3 599.9L242 599.7L242.7 600L243.3 600.7L244 600.3L244.7 600.7L245.4 600.9L246.1 600.2L246.8 599.9L247.5 600.6L248.2 600.5L248.9 600.3L249.6 599.8L250.2 600.1L250.9 599.9L251.6 599.7L252.3 600.2L253 599.6L253.7 599.5L254.4 600.6L255.1 599.4L255.8 599.7L256.5 600.5L257.1 600L257.8 599.7L258.5 599.3L259.2 600.1L259.9 599.8L260.6 599.3L261.3 599.4L262 599.2L262.7 599.8L263.4 599.6L264 600.2L264.7 599.4L265.4 599.3L266.1 599.5L266.8 599.4L267.5 600.1L268.2 599.1L268.9 599L269.6 599L270.2 599.6L270.9 599.2L271.6 599.8L272.3 599L273 599.1L273.7 599.7L274.4 600.1L275.1 599.6L275.8 599.4L276.5 599.1L277.2 599.5L277.8 600.1L278.5 599L279.2 600L279.9 599L280.6 599.8L281.3 599.6L282 598.9L282.7 599.8L283.4 599.8L284.1 599.3L284.7 599" stroke="#f4a4a0" stroke-width="0.9" fill="none"/>
<path d="M79 603.7L79.1 602.4L79.3 601.7L79.4 602L79.6 602.1L79.7 601.7L79.8 601.6L80 601.6L80.1 601.5L80.3 601.7L80.4 601.6L80.5 601L80.7 601.4L80.8 600.9L81.2 600.6L81.6 600.4L82 600.1L82.5 600.8L82.9 600.7L83.3 600L83.7 600.1L84.1 600.4L84.5 599.7L84.9 599.4L85.4 599.3L85.8 600L86.2 599.8L86.6 600.1L87 598.9L87.4 599.7L87.8 599L88.3 599.2L88.7 599L89.1 599.1L89.5 598.6L89.9 598.9L90.3 599.2L91.2 599.3L92 598.7L92.8 598.1L93.6 599L94.5 598.2L95.3 598.2L96.1 598.7L96.9 598.5L97.8 597.9L98.6 598.1L99.4 598.1L100.3 597.9L101.1 598.3L101.9 597.5L102.7 597.6L103.6 597.6L104.4 597.7L105.2 597.1L106.1 597L106.9 597.3L107.7 597.7L108.5 597.6L109.4 597.5L110.2 597.6L111 596.8L111.9 596.9L112.7 597.2L113.5 596.3L114.3 596.6L115.2 596.3L116 596.2L116.8 596.3L117.6 596.4L118.5 595.8L119.3 596.8L120.1 596.1L121 595.8L121.8 596.2L122.6 595.7L123.4 596.4L124.3 596.1L125.1 596.2L125.9 596L126.8 595.6L127.6 596.2L128.4 595.9L129.2 595.7L129.3 592.9L129.5 595.2L129.8 595.9L130 596.2L130.3 595L130.6 595.6L130.9 596.4L131.1 595.6L131.4 596.2L131.7 596.2L132 595.4L132.2 595.5L132.5 595.8L132.8 595.7L133.1 595.7L133.4 595.8L133.6 596.3L133.9 595.4L134.2 595.4L134.5 595.8L134.7 595.9L135 595.6L135.3 595.8L135.6 595.9L135.8 595.2L136.1 595.2L136.4 596.2L136.7 596.2L136.9 595.3L137.2 595.1L137.5 595.4L137.8 596L138.5 596.3L139.2 595.3L139.8 595.1L140.5 595.3L141.2 595.4L141.9 595L142.6 595.6L143.3 595.1L144 596L144.7 596.2L145.4 595.2L146.1 595.3L146.7 595.2L147.4 596.1L148.1 595.9L148.8 595.5L149.5 596.2L150.2 595.8L150.9 595.4L151.6 594.9L152.3 595.2L153 595.6L153.6 595.6L154.3 595.5L155 595.1L155.7 594.8L156.4 596.1L157.1 594.8L157.8 595L158.5 596L159.2 595.7L159.9 595.7L160.5 595.7L161.2 595.8L161.9 595.8L162.6 595.1L163.3 595.4L164 595.8L164.7 594.8L165.4 594.8L166.1 595.6L166.8 594.8L167.4 594.8L168.1 595.2L168.8 595.7L169.5 594.9L170.2 594.6L170.9 594.6L171.6 594.5L172.3 595.6L173 594.4L173.7 595.6L174.3 595.2L175 595L175.7 594.8L176.4 595L177.1 594.4L177.8 594.6L178.5 594.5L179.2 594.7L179.9 595L180.6 595.6L181.2 594.7L181.9 594.3L182.6 595.3L183.3 594.2L184 595.5L184.7 595L185.4 594.5L186.1 594.5L186.8 594.7L187.4 595.1L188.1 595.1L188.8 595.2L189.5 594.5L190.2 595.4L190.9 595.2L191.6 594.4L192.3 594.7L193 595.3L193.7 594.7L194.4 594L195 594.6L195.7 594.9L196.4 595.1L197.1 594.5L197.8 594.9L198.5 594.8L199.2 595.1L199.9 594.3L200.6 594.1L201.2 594.4L201.9 594.3L202.6 594.7L203.3 593.7L204 594.7L204.7 593.8L205.4 595L206.1 594.1L206.8 593.8L207.5 594.2L208.2 594.7L208.8 594.7L209.5 593.6L210.2 593.6L210.9 594.6L211.6 594.3L212.3 593.7L213 593.7L213.7 594.8L214.4 594.1L215.1 594.5L215.7 594.7L216.4 593.8L217.1 594.1L217.8 594.5L218.5 593.7L219.2 594.3L219.9 594.3L220.6 594.3L221.3 594.4L222 593.5L222.6 594.2L223.3 593.3L224 593.6L224.7 593.8L225.4 593.3L226.1 594L226.8 594.5L227.5 593.6L228.2 594.4L228.9 593.2L229.5 593.1L230.2 593.9L230.9 594.3L231.6 593.1L232.3 594L233 593L233.7 593.7L234.4 593.1L235.1 593.1L235.8 594.1L236.4 593.8L237.1 593.7L237.8 594L238.5 593L239.2 593.9L239.9 593.9L240.6 593.9L241.3 594L242 593L242.7 593.9L243.3 593.3L244 593.9L244.7 593L245.4 593L246.1 592.8L246.8 594L247.5 593.1L248.2 593L248.9 593.5L249.6 593L250.2 593.5L250.9 593.1L251.6 592.8L252.3 592.8L253 593.4L253.7 593.5L254.4 592.5L255.1 593.5L255.8 593.2L256.5 593.2L257.1 593.3L257.8 593L258.5 593.6L259.2 593.1L259.9 592.8L260.6 592.5L261.3 593L262 593.3L262.7 593.3L263.4 593.4L264 593.4L264.7 593.2L265.4 593.1L266.1 592.3L266.8 592.5L267.5 592.3L268.2 592.8L268.9 593.2L269.6 592.7L270.2 592.5L270.9 592.1L271.6 593.1L272.3 592.4L273 592.1L273.7 592.8L274.4 592.6L275.1 593.2L275.8 592.4L276.5 593.2L277.2 592.2L277.8 592.2L278.5 592.1L279.2 592.1L279.9 593.1L280.6 592L281.3 592.2L282 591.9L282.7 591.9L283.4 592.5L284.1 591.9L284.7 592.8" stroke="#a0cca0" stroke-width="0.9" fill="none"/>
<path d="M79 603.7L79.1 602.2L79.3 601.3L79.4 601.3L79.6 601.9L79.7 601L79.8 601.2L80 601.7L80.1 600.5L80.3 601.3L80.4 601.1L80.5 600.8L80.7 600.5L80.8 601L81.2 600.1L81.6 599.7L82 599.8L82.5 599.3L82.9 599.3L83.3 598.9L83.7 599.6L84.1 599.2L84.5 598.9L84.9 599.3L85.4 598.1L85.8 598.4L86.2 599L86.6 598.3L87 598.4L87.4 598.6L87.8 598.6L88.3 598.1L88.7 598.5L89.1 597.9L89.5 597.9L89.9 598.3L90.3 597.3L91.2 598.2L92 597.9L92.8 597L93.6 597.6L94.5 597.3L95.3 597L96.1 597L96.9 596.9L97.8 596.8L98.6 596.7L99.4 597.1L100.3 596.1L101.1 596.6L101.9 596.8L102.7 596.3L103.6 595.7L104.4 595.8L105.2 595.9L106.1 595.8L106.9 596L107.7 595.5L108.5 595.7L109.4 595.9L110.2 595.8L111 595.7L111.9 594.9L112.7 594.6L113.5 594.7L114.3 595.2L115.2 595.2L116 594.2L116.8 594.8L117.6 595L118.5 594.4L119.3 594.2L120.1 594.3L121 594.3L121.8 594.4L122.6 594.1L123.4 594L124.3 593.7L125.1 593.9L125.9 593.9L126.8 593.1L127.6 594.1L128.4 593.2L129.2 593.5L129.3 590.7L129.5 593.6L129.8 593.1L130 593.2L130.3 593.4L130.6 593.4L130.9 593.9L131.1 594.2L131.4 593.2L131.7 593.9L132 594.1L132.2 593.1L132.5 593.4L132.8 594.2L133.1 593.5L133.4 594L133.6 593.1L133.9 593.9L134.2 593L134.5 593.4L134.7 594.1L135 593.7L135.3 592.9L135.6 593.3L135.8 594L136.1 593.7L136.4 593.9L136.7 594.1L136.9 593.4L137.2 593.3L137.5 593.9L137.8 593.5L138.5 593L139.2 593L139.8 594L140.5 594.1L141.2 592.9L141.9 593.7L142.6 593.9L143.3 593.1L144 593.8L144.7 593.2L145.4 593.2L146.1 593.7L146.7 593.5L147.4 593.7L148.1 593L148.8 593.7L149.5 593.7L150.2 592.9L150.9 593.7L151.6 593.4L152.3 593.3L153 594L153.6 593.6L154.3 592.9L155 592.6L155.7 593.5L156.4 593.3L157.1 593.8L157.8 593.2L158.5 593.4L159.2 593.2L159.9 593.4L160.5 593.4L161.2 592.6L161.9 592.8L162.6 593.3L163.3 593.7L164 593.7L164.7 593.6L165.4 593.6L166.1 592.9L166.8 593L167.4 593.5L168.1 592.5L168.8 592.8L169.5 592.7L170.2 592.4L170.9 593.2L171.6 592.4L172.3 592.3L173 592.3L173.7 593.5L174.3 592.4L175 592.2L175.7 593.4L176.4 592.3L177.1 592.4L177.8 593.4L178.5 592.5L179.2 592.4L179.9 592.4L180.6 593.3L181.2 592.1L181.9 593.3L182.6 593.3L183.3 592.1L184 592.7L184.7 593.1L185.4 592.8L186.1 592.4L186.8 592.9L187.4 592L188.1 592.3L188.8 592.7L189.5 592.7L190.2 593L190.9 591.8L191.6 592.7L192.3 591.9L193 592.4L193.7 592.4L194.4 592.9L195 592.4L195.7 592.9L196.4 592.4L197.1 592.2L197.8 591.8L198.5 592.7L199.2 592.7L199.9 591.9L200.6 592.8L201.2 592.7L201.9 592.3L202.6 592.3L203.3 591.5L204 592.8L204.7 591.7L205.4 592.2L206.1 592.6L206.8 592.5L207.5 591.5L208.2 592.5L208.8 592.2L209.5 592.7L210.2 592.1L210.9 591.8L211.6 591.7L212.3 592.2L213 592.1L213.7 591.5L214.4 591.4L215.1 592L215.7 592.5L216.4 591.3L217.1 592.1L217.8 591.9L218.5 592.5L219.2 592.5L219.9 592.3L220.6 591.7L221.3 592.1L222 591.4L222.6 592.2L223.3 591.5L224 592.4L224.7 591.9L225.4 591.1L226.1 592L226.8 591.9L227.5 592.3L228.2 591.1L228.9 591.6L229.5 591.9L230.2 591.5L230.9 591.9L231.6 591L232.3 591.6L233 592.1L233.7 591.9L234.4 592.1L235.1 591.1L235.8 592L236.4 591.4L237.1 591.3L237.8 591.9L238.5 591.2L239.2 591.2L239.9 590.7L240.6 590.7L241.3 590.6L242 591.2L242.7 591.3L243.3 591.3L244 591.7L244.7 591.1L245.4 590.5L246.1 591.2L246.8 590.7L247.5 591.5L248.2 591.3L248.9 591.2L249.6 590.4L250.2 591.3L250.9 590.7L251.6 591.5L252.3 590.7L253 591L253.7 590.3L254.4 591.6L255.1 591.3L255.8 590.4L256.5 591L257.1 591.2L257.8 590.4L258.5 591L259.2 590.3L259.9 590.8L260.6 591.4L261.3 591.4L262 590.3L262.7 590.2L263.4 591.2L264 590.1L264.7 590.3L265.4 590.7L266.1 590.3L266.8 590.6L267.5 591.3L268.2 590.9L268.9 590.8L269.6 590.1L270.2 590.9L270.9 590.3L271.6 590.4L272.3 591.1L273 590.6L273.7 590.4L274.4 590.2L275.1 590.7L275.8 589.8L276.5 590L277.2 591.1L277.8 589.9L278.5 590.2L279.2 589.8L279.9 590.7L280.6 590L281.3 590L282 590.4L282.7 590.5L283.4 590.1L284.1 589.6L284.7 590" stroke="#9c9cf4" stroke-width="0.9" fill="none"/>
<path d="M79 603.7L79.1 602.5L79.3 602.2L79.4 602L79.6 601.2L79.7 601.5L79.8 601.1L80 601.8L80.1 601.2L80.3 600.7L80.4 601L80.5 600.3L80.7 600.3L80.8 600.9L81.2 601L81.6 599.9L82 600.4L82.5 600.3L82.9 599.3L83.3 599L83.7 598.8L84.1 598.5L84.5 599.2L84.9 599.3L85.4 599.1L85.8 597.9L86.2 598.8L86.6 598.7L87 598.7L87.4 598.6L87.8 598.5L88.3 598.1L88.7 598.2L89.1 597.9L89.5 597.1L89.9 598L90.3 597.1L91.2 597.1L92 597.1L92.8 597L93.6 596.7L94.5 596.8L95.3 597.1L96.1 596.9L96.9 596.9L97.8 596.6L98.6 595.8L99.4 596.4L100.3 596.7L101.1 596.1L101.9 595.6L102.7 596L103.6 595.6L104.4 596.2L105.2 596.2L106.1 595.4L106.9 596L107.7 595.6L108.5 595.4L109.4 595.6L110.2 595.7L111 595.6L111.9 594.4L112.7 594.6L113.5 594.2L114.3 594.7L115.2 594.1L116 594.1L116.8 594.3L117.6 594.4L118.5 594.3L119.3 594.6L120.1 594.3L121 593.8L121.8 594.4L122.6 593.5L123.4 593.8L124.3 593.6L125.1 593.3L125.9 593.4L126.8 594L127.6 593.8L128.4 594L129.2 593.3L129.3 590L129.5 593.9L129.8 592.7L130 593.2L130.3 592.6L130.6 592.9L130.9 593.5L131.1 592.6L131.4 592.7L131.7 593.3L132 593.8L132.2 593.5L132.5 593.7L132.8 593.4L133.1 593.8L133.4 592.9L133.6 592.5L133.9 593.6L134.2 592.8L134.5 593L134.7 593.2L135 592.6L135.3 593.3L135.6 592.7L135.8 593.8L136.1 592.5L136.4 593.5L136.7 593.8L136.9 592.6L137.2 592.8L137.5 592.8L137.8 592.7L138.5 593.2L139.2 593.6L139.8 593.3L140.5 592.4L141.2 592.3L141.9 593.3L142.6 593L143.3 593L144 592.4L144.7 593.6L145.4 592.4L146.1 593.2L146.7 592.8L147.4 593.3L148.1 593.4L148.8 592.3L149.5 592.8L150.2 592.1L150.9 592.2L151.6 592.4L152.3 593.3L153 592.6L153.6 592L154.3 592.7L155 593.2L155.7 593.1L156.4 591.9L157.1 591.9L157.8 592.9L158.5 592.8L159.2 592.2L159.9 592.5L160.5 592.9L161.2 591.8L161.9 592.3L162.6 592.6L163.3 593.1L164 592.4L164.7 592L165.4 592.8L166.1 592.9L166.8 592L167.4 591.7L168.1 592.5L168.8 592.3L169.5 592.1L170.2 592.2L170.9 592.7L171.6 592.5L172.3 592.6L173 592.6L173.7 592.7L174.3 592.3L175 592.5L175.7 591.6L176.4 592.3L177.1 591.4L177.8 591.6L178.5 592.4L179.2 592.5L179.9 591.9L180.6 592L181.2 591.9L181.9 592.5L182.6 591.9L183.3 591.6L184 592L184.7 592.2L185.4 591.3L186.1 592.1L186.8 591.2L187.4 591.6L188.1 592.5L188.8 591.9L189.5 592.3L190.2 591.4L190.9 591.8L191.6 592.3L192.3 591.1L193 591.3L193.7 591.5L194.4 591.6L195 592.2L195.7 591L196.4 591.9L197.1 591.6L197.8 591.6L198.5 591.6L199.2 592.2L199.9 591L200.6 591.5L201.2 591.6L201.9 591L202.6 591L203.3 591.1L204 590.9L204.7 591.6L205.4 591.9L206.1 591.6L206.8 591.2L207.5 590.9L208.2 591L208.8 591.1L209.5 591.1L210.2 591L210.9 591.1L211.6 591.9L212.3 591.1L213 591.5L213.7 591.8L214.4 591L215.1 590.7L215.7 591.4L216.4 590.9L217.1 590.9L217.8 590.8L218.5 590.5L219.2 590.8L219.9 591.6L220.6 590.8L221.3 591.2L222 591.1L222.6 590.7L223.3 591.4L224 590.7L224.7 590.3L225.4 591.5L226.1 590.4L226.8 590.6L227.5 591L228.2 590.4L228.9 591.4L229.5 591.2L230.2 590.1L230.9 590.6L231.6 591.2L232.3 591.2L233 590.8L233.7 590.6L234.4 590L235.1 591.1L235.8 590.4L236.4 590.7L237.1 590.5L237.8 590L238.5 591.1L239.2 590.1L239.9 590.2L240.6 590.8L241.3 591L242 590.1L242.7 590L243.3 590.6L244 590.9L244.7 590.3L245.4 590.1L246.1 590.6L246.8 590.5L247.5 590.9L248.2 590.8L248.9 590.7L249.6 589.9L250.2 590.8L250.9 590.7L251.6 590.3L252.3 590.6L253 590.5L253.7 589.9L254.4 590.5L255.1 590.1L255.8 590.7L256.5 590.1L257.1 589.8L257.8 590.1L258.5 590.5L259.2 590.7L259.9 590.3L260.6 590.1L261.3 590.5L262 590.1L262.7 589.9L263.4 590.5L264 589.7L264.7 589.3L265.4 589.6L266.1 589.9L266.8 589.4L267.5 589.2L268.2 589.2L268.9 589.2L269.6 589.4L270.2 589.2L270.9 589.4L271.6 590L272.3 590.2L273 589.7L273.7 589.4L274.4 590L275.1 589.8L275.8 590.2L276.5 590.2L277.2 589.9L277.8 589.1L278.5 590.2L279.2 590L279.9 589.7L280.6 588.9L281.3 589.9L282 590.1L282.7 590.1L283.4 589.7L284.1 590.1L284.7 589.2" stroke="#c890d8" stroke-width="0.9" fill="none"/>
<path d="M79 603.7L79.1 614.1L79.1 602.4L79.3 600.5L79.4 599.8L79.6 599L79.7 598.6L79.8 598.3L80 598.7L80.1 598.5L80.3 598.6L80.4 597.8L80.5 598.4L80.7 597.7L80.8 598.6L81.2 598.6L81.6 598L82 597.9L82.5 597.4L82.9 597.2L83.3 597.5L83.7 597.7L84.1 597.1L84.5 597.3L84.9 597.4L85.4 597.3L85.8 597.6L86.2 596.6L86.6 597.3L87 597L87.4 596.4L87.8 596.3L88.3 596.2L88.7 596.1L89.1 595.8L89.5 595.6L89.9 595.4L90.3 596.1L91.2 595.9L92 596L92.8 595.4L93.6 595.6L94.5 594.5L95.3 594.5L96.1 594.9L96.9 594.2L97.8 594L98.6 594.5L99.4 593.5L100.3 593.4L101.1 593.5L101.9 592.8L102.7 593.6L103.6 593.5L104.4 592.5L105.2 592.4L106.1 593L106.9 592.1L107.7 591.9L108.5 592L109.4 592.1L110.2 591.1L111 590.9L111.9 591.1L112.7 591.3L113.5 590.7L114.3 590.4L115.2 590.4L116 589.9L116.8 590.4L117.6 589.4L118.5 589.5L119.3 590L120.1 589.9L121 588.9L121.8 589.2L122.6 588.3L123.4 588.1L124.3 588.7L125.1 588L125.9 588.5L126.8 588L127.6 588.2L128.4 587.2L129.2 587.4L129.3 584.1L129.5 588L129.8 587L130 587.9L130.3 588.1L130.6 588.5L130.9 588.4L131.1 588.7L131.4 588.5L131.7 587.6L132 588.1L132.2 588.9L132.5 589L132.8 588.5L133.1 588L133.4 588.6L133.6 588.8L133.9 588.4L134.2 589.2L134.5 589.2L134.7 588.8L135 588.4L135.3 588.9L135.6 589.2L135.8 588.9L136.1 588.6L136.4 589.4L136.7 589.5L136.9 589.1L137.2 589.3L137.5 589.6L137.8 589.5L138.5 588.7L139.2 589.7L139.8 589.5L140.5 588.7L141.2 589.5L141.9 588.8L142.6 589L143.3 589.5L144 589.6L144.7 590.2L145.4 589.7L146.1 589.5L146.7 588.9L147.4 590.2L148.1 589.2L148.8 589L149.5 589.1L150.2 589.6L150.9 589.4L151.6 589.9L152.3 590.4L153 589.8L153.6 589.4L154.3 590.3L155 589.8L155.7 590.4L156.4 590.3L157.1 589.3L157.8 590.4L158.5 589.6L159.2 590.1L159.9 590.1L160.5 589.2L161.2 589.9L161.9 589.7L162.6 589.3L163.3 589.6L164 590.3L164.7 590.1L165.4 589.4L166.1 590.1L166.8 590.4L167.4 590.1L168.1 590.1L168.8 589.9L169.5 590.3L170.2 589.4L170.9 589.2L171.6 590.2L172.3 589.8L173 590.2L173.7 589.6L174.3 590.1L175 590.5L175.7 590.5L176.4 590.5L177.1 590.1L177.8 589.5L178.5 589.8L179.2 590L179.9 590.3L180.6 589.3L181.2 589.2L181.9 590.3L182.6 590L183.3 589.8L184 590L184.7 590.3L185.4 589.4L186.1 589.6L186.8 590.4L187.4 590.4L188.1 589.5L188.8 589.8L189.5 589.9L190.2 589.2L190.9 590.3L191.6 589L192.3 589.1L193 589.7L193.7 589.8L194.4 590.1L195 589.4L195.7 589.5L196.4 589.8L197.1 589.4L197.8 590.2L198.5 589.8L199.2 589L199.9 590L200.6 588.9L201.2 589.7L201.9 589.2L202.6 589L203.3 590L204 588.9L204.7 589.9L205.4 589.8L206.1 589.5L206.8 589.5L207.5 588.8L208.2 589.9L208.8 589.3L209.5 590L210.2 590L210.9 589.8L211.6 589.2L212.3 589.6L213 588.8L213.7 589.3L214.4 588.9L215.1 589.8L215.7 589.5L216.4 588.9L217.1 588.6L217.8 589.8L218.5 589.2L219.2 588.9L219.9 588.7L220.6 588.8L221.3 589.3L222 588.7L222.6 588.9L223.3 589.3L224 589.4L224.7 589.7L225.4 589.4L226.1 589.5L226.8 588.5L227.5 589L228.2 588.6L228.9 588.5L229.5 588.7L230.2 589.6L230.9 588.7L231.6 589.2L232.3 589.3L233 589.2L233.7 589.5L234.4 588.3L235.1 589.4L235.8 589.2L236.4 588.2L237.1 588.3L237.8 588.8L238.5 589.2L239.2 588.2L239.9 589.4L240.6 588.7L241.3 589.4L242 588.2L242.7 588.4L243.3 589L244 589.4L244.7 589.2L245.4 588.9L246.1 588.9L246.8 588.1L247.5 588.2L248.2 589.1L248.9 587.9L249.6 588.4L250.2 588.8L250.9 588.5L251.6 589.2L252.3 589.1L253 588.5L253.7 588.1L254.4 587.8L255.1 589.1L255.8 588.5L256.5 588.4L257.1 588.7L257.8 588.7L258.5 589L259.2 587.8L259.9 588.7L260.6 587.8L261.3 588.1L262 587.6L262.7 588.1L263.4 587.9L264 588.1L264.7 588.8L265.4 587.9L266.1 587.7L266.8 587.6L267.5 588.3L268.2 588L268.9 587.6L269.6 588.6L270.2 587.9L270.9 588.7L271.6 588L272.3 587.6L273 588.2L273.7 588.6L274.4 588.4L275.1 587.5L275.8 587.3L276.5 587.9L277.2 587.6L277.8 587.8L278.5 587.3L279.2 587.5L279.9 587.4L280.6 588.4L281.3 587.3L282 588.1L282.7 587.7L283.4 588.2L284.1 588.1L284.7 587.7" stroke="#f4a4f4" stroke-width="0.9" fill="none"/>
<path d="M79 603.7L79.1 601.5L79.3 601.8L79.4 601.3L79.6 600.6L79.7 601.1L79.8 600.5L80 600.1L80.1 599.4L80.3 600.3L80.4 600L80.5 599.5L80.7 598.6L80.8 598.4L81.2 598.6L81.6 597.1L82 597.1L82.5 596.1L82.9 595.7L83.3 596.3L83.7 594.9L84.1 595.1L84.5 595.2L84.9 594.5L85.4 594.7L85.8 593.6L86.2 593.6L86.6 593.9L87 593.5L87.4 592.9L87.8 592.4L88.3 592.8L88.7 592.8L89.1 592.3L89.5 592.5L89.9 592L90.3 591.1L91.2 591.6L92 591.1L92.8 590.2L93.6 590.6L94.5 590.4L95.3 589.9L96.1 589.2L96.9 588.7L97.8 588.5L98.6 588.9L99.4 588.3L100.3 588.2L101.1 587.4L101.9 587.3L102.7 586.6L103.6 586.5L104.4 586.2L105.2 586.4L106.1 585.7L106.9 586L107.7 585.6L108.5 584.4L109.4 585L110.2 584.9L111 583.7L111.9 584.1L112.7 583.7L113.5 583.1L114.3 582.3L115.2 583.2L116 582.1L116.8 582.6L117.6 581.4L118.5 581.6L119.3 581.7L120.1 581.1L121 580.5L121.8 580.8L122.6 580.3L123.4 579.5L124.3 579.2L125.1 579L125.9 579.1L126.8 578.5L127.6 578.9L128.4 578.4L129.2 578L129.3 570.8L129.5 578.9L129.8 579.3L130 579.6L130.3 579.7L130.6 578.6L130.9 579.5L131.1 579.7L131.4 579.4L131.7 579.4L132 579.3L132.2 579.3L132.5 580.6L132.8 580.4L133.1 580.3L133.4 580.5L133.6 580.3L133.9 580.8L134.2 579.9L134.5 580.8L134.7 580.1L135 580.1L135.3 580.5L135.6 581.1L135.8 581.5L136.1 580.2L136.4 580.4L136.7 581L136.9 581.6L137.2 580.7L137.5 581.4L137.8 581.2L138.5 580.6L139.2 580.8L139.8 580.9L140.5 582.1L141.2 581.3L141.9 581.5L142.6 581.4L143.3 582.4L144 581.2L144.7 582.3L145.4 582.5L146.1 581.7L146.7 581.6L147.4 581.7L148.1 582.6L148.8 582.4L149.5 582L150.2 582L150.9 581.8L151.6 582.8L152.3 582L153 582.6L153.6 582.5L154.3 582.7L155 582.3L155.7 582.7L156.4 582.2L157.1 582.7L157.8 582.9L158.5 582.6L159.2 582.7L159.9 582.7L160.5 581.8L161.2 582.3L161.9 582L162.6 582.3L163.3 581.8L164 582.5L164.7 582.6L165.4 582.9L166.1 582.9L166.8 582L167.4 582.6L168.1 582.4L168.8 582L169.5 582.6L170.2 583L170.9 582.3L171.6 582.2L172.3 582L173 582.7L173.7 583.1L174.3 582.4L175 582.2L175.7 583.3L176.4 582.2L177.1 582.2L177.8 583.2L178.5 582.5L179.2 583.2L179.9 582.6L180.6 583.2L181.2 582.6L181.9 583L182.6 582.7L183.3 582.5L184 582.3L184.7 582.7L185.4 583.1L186.1 582.9L186.8 582.8L187.4 582.9L188.1 583L188.8 582L189.5 582.8L190.2 583.3L190.9 583L191.6 582.2L192.3 582.3L193 582.7L193.7 583.2L194.4 582.8L195 582L195.7 583.1L196.4 583.1L197.1 582.6L197.8 583.2L198.5 582L199.2 582.1L199.9 583L200.6 582L201.2 581.9L201.9 582.2L202.6 582.1L203.3 583L204 582.9L204.7 582.5L205.4 582.9L206.1 582L206.8 582.6L207.5 582.3L208.2 582.6L208.8 581.8L209.5 582.7L210.2 581.9L210.9 581.9L211.6 582.2L212.3 583L213 581.8L213.7 582.8L214.4 582.9L215.1 581.9L215.7 582.8L216.4 583L217.1 581.8L217.8 581.7L218.5 582.5L219.2 582.5L219.9 582L220.6 581.9L221.3 582.5L222 582.8L222.6 582.7L223.3 582.5L224 582.9L224.7 581.9L225.4 582.3L226.1 582.1L226.8 582.5L227.5 582.3L228.2 581.8L228.9 581.6L229.5 581.6L230.2 582.1L230.9 581.6L231.6 582.3L232.3 581.9L233 582.3L233.7 581.5L234.4 582.1L235.1 582.6L235.8 581.6L236.4 582.4L237.1 581.5L237.8 581.5L238.5 581.4L239.2 582.5L239.9 582.1L240.6 582.5L241.3 582.5L242 581.9L242.7 581.7L243.3 582.4L244 581.6L244.7 582L245.4 582.3L246.1 581.6L246.8 581.8L247.5 581.9L248.2 581.1L248.9 581.6L249.6 581.9L250.2 581.6L250.9 581L251.6 582.1L252.3 581.4L253 581L253.7 581.4L254.4 582.1L255.1 581.2L255.8 581.5L256.5 582L257.1 581.2L257.8 581L258.5 581.2L259.2 580.8L259.9 581.9L260.6 580.7L261.3 580.9L262 581.6L262.7 581.3L263.4 580.9L264 581L264.7 581.3L265.4 581.7L266.1 581.3L266.8 580.7L267.5 580.8L268.2 581.6L268.9 581.9L269.6 581.3L270.2 581.1L270.9 580.6L271.6 580.6L272.3 581.1L273 581.4L273.7 580.7L274.4 581L275.1 581.7L275.8 581.1L276.5 580.9L277.2 581.2L277.8 580.9L278.5 580.6L279.2 580.4L279.9 580.9L280.6 581.5L281.3 580.3L282 580.5L282.7 581L283.4 580.9L284.1 580.3L284.7 581.5" stroke="#a4e4e8" stroke-width="0.9" fill="none"/>
<path d="M79 603.7L79.1 601.9L79.3 601L79.4 601L79.6 600.2L79.7 599.5L79.8 599.5L80 598.8L80.1 598.4L80.3 597.8L80.4 598.4L80.5 597.8L80.7 596.4L80.8 596.4L81.2 595.9L81.6 594.3L82 594.1L82.5 593L82.9 592.1L83.3 591.7L83.7 591.1L84.1 590L84.5 589.3L84.9 589.1L85.4 588.2L85.8 587.3L86.2 587.9L86.6 587.2L87 587L87.4 585.9L87.8 585.9L88.3 585.5L88.7 585.3L89.1 584.4L89.5 584.1L89.9 584.1L90.3 583.3L91.2 583.5L92 582.8L92.8 581.5L93.6 581.8L94.5 581.4L95.3 581.1L96.1 579.8L96.9 579.1L97.8 579.6L98.6 578.6L99.4 578.3L100.3 577.9L101.1 577.5L101.9 576.9L102.7 576.8L103.6 575.4L104.4 575.8L105.2 575L106.1 574.4L106.9 574L107.7 573.7L108.5 573.3L109.4 572.3L110.2 572.8L111 572.4L111.9 571.8L112.7 570.9L113.5 570.8L114.3 570.5L115.2 570.4L116 570L116.8 568.9L117.6 569L118.5 568.3L119.3 568.2L120.1 567.7L121 567.4L121.8 566.2L122.6 566.1L123.4 565.9L124.3 565.8L125.1 564.6L125.9 564.6L126.8 564.7L127.6 564.2L128.4 562.9L129.2 563.1L129.3 556.2L129.5 565.6L129.8 565.8L130 566.5L130.3 565.7L130.6 566.8L130.9 566.7L131.1 566.7L131.4 567.2L131.7 567.6L132 568L132.2 567.6L132.5 568.4L132.8 568.1L133.1 567.8L133.4 568L133.6 568.5L133.9 568.7L134.2 569.5L134.5 568.7L134.7 568.7L135 569.6L135.3 570.1L135.6 569.6L135.8 569.8L136.1 569.4L136.4 569.6L136.7 570.1L136.9 570.1L137.2 570.2L137.5 570.1L137.8 570.2L138.5 570.4L139.2 571.1L139.8 570.5L140.5 571.7L141.2 571.5L141.9 571.3L142.6 572.1L143.3 571.4L144 571.9L144.7 572L145.4 572.5L146.1 572.2L146.7 572L147.4 572.8L148.1 571.8L148.8 571.7L149.5 572.4L150.2 572.4L150.9 572.1L151.6 572.4L152.3 572.5L153 572.8L153.6 572.8L154.3 573.1L155 573.5L155.7 572.6L156.4 572.8L157.1 573.8L157.8 572.8L158.5 572.5L159.2 573.4L159.9 572.7L160.5 573.7L161.2 573.2L161.9 573L162.6 573.6L163.3 573.8L164 574.1L164.7 573.5L165.4 573.9L166.1 573.7L166.8 573.6L167.4 574.1L168.1 573.9L168.8 574.4L169.5 573.6L170.2 573.6L170.9 574.2L171.6 574.3L172.3 573.8L173 574.1L173.7 573.6L174.3 573.7L175 574.1L175.7 574.2L176.4 574L177.1 574L177.8 574.2L178.5 574.1L179.2 574.4L179.9 573.9L180.6 574.2L181.2 574.7L181.9 574.1L182.6 574.5L183.3 574.5L184 574.2L184.7 573.8L185.4 574.5L186.1 574.5L186.8 574.2L187.4 573.9L188.1 573.9L188.8 573.7L189.5 575L190.2 574.3L190.9 574.6L191.6 574.6L192.3 574.7L193 574.3L193.7 574.1L194.4 574.2L195 575L195.7 574.5L196.4 574L197.1 574.6L197.8 574.8L198.5 574.6L199.2 574.3L199.9 574.7L200.6 574.9L201.2 575.1L201.9 575L202.6 574.2L203.3 575L204 574.7L204.7 574.8L205.4 574L206.1 574L206.8 575.1L207.5 574.9L208.2 574.8L208.8 574.9L209.5 574.5L210.2 573.8L210.9 574.6L211.6 574.2L212.3 574.4L213 573.8L213.7 574.6L214.4 574.2L215.1 574.9L215.7 574.6L216.4 575L217.1 574.4L217.8 574.2L218.5 574.8L219.2 574.4L219.9 574.1L220.6 574.6L221.3 573.8L222 574.9L222.6 574.5L223.3 573.7L224 573.7L224.7 574.3L225.4 574.7L226.1 574.5L226.8 574.4L227.5 574.5L228.2 574.4L228.9 574.4L229.5 573.7L230.2 574.9L230.9 573.7L231.6 574.4L232.3 573.5L233 573.6L233.7 573.6L234.4 574.1L235.1 573.7L235.8 574.6L236.4 574.4L237.1 574.6L237.8 574.7L238.5 573.5L239.2 574.3L239.9 574.5L240.6 573.5L241.3 573.6L242 573.9L242.7 574.3L243.3 574.6L244 574.5L244.7 573.8L245.4 573.4L246.1 573.8L246.8 574.3L247.5 574.4L248.2 573.5L248.9 573.6L249.6 573.9L250.2 573.8L250.9 574.5L251.6 574.4L252.3 573.2L253 574.5L253.7 573.4L254.4 574.3L255.1 573.5L255.8 574.3L256.5 574.3L257.1 573.5L257.8 573.1L258.5 573.7L259.2 573.2L259.9 573.5L260.6 573.2L261.3 573.6L262 573.1L262.7 573.4L263.4 573.8L264 573.7L264.7 573.1L265.4 574.2L266.1 573.6L266.8 574.1L267.5 573.1L268.2 573.5L268.9 573.1L269.6 573.7L270.2 573.6L270.9 573.4L271.6 573.3L272.3 573.8L273 574L273.7 573.4L274.4 573.9L275.1 573.4L275.8 573.9L276.5 573.2L277.2 573.3L277.8 573.8L278.5 572.9L279.2 573.3L279.9 572.7L280.6 573.5L281.3 573.2L282 573.4L282.7 572.9L283.4 573.4L284.1 573.1L284.7 573.2" stroke="#f2d0a4" stroke-width="0.9" fill="none"/>
<path d="M79 603.7L79.1 602.2L79.3 601.2L79.4 600.9L79.6 599.6L79.7 599.4L79.8 599L80 597.7L80.1 597.2L80.3 596.6L80.4 596.2L80.5 596.3L80.7 595.5L80.8 595.1L81.2 593L81.6 592.5L82 590.2L82.5 589.7L82.9 588.4L83.3 586.8L83.7 585.7L84.1 584.9L84.5 583.9L84.9 583L85.4 582.1L85.8 581.9L86.2 580.9L86.6 580.5L87 579.1L87.4 578.7L87.8 578.1L88.3 577.4L88.7 576L89.1 576.4L89.5 574.9L89.9 574.3L90.3 574.6L91.2 572.8L92 572.5L92.8 571L93.6 570.7L94.5 569.6L95.3 568.5L96.1 567.8L96.9 566.4L97.8 565.8L98.6 565.7L99.4 564.3L100.3 564.1L101.1 563.2L101.9 562.2L102.7 561.5L103.6 560.5L104.4 559.2L105.2 558.7L106.1 558.3L106.9 557.2L107.7 557.3L108.5 556L109.4 554.9L110.2 554.3L111 554.1L111.9 553.3L112.7 552.9L113.5 552.1L114.3 550.8L115.2 551.2L116 549.6L116.8 549.7L117.6 548.7L118.5 548L119.3 548L120.1 546.8L121 546.7L121.8 545L122.6 544.4L123.4 544.2L124.3 543.3L125.1 542.7L125.9 542.8L126.8 542.3L127.6 541.3L128.4 540.7L129.2 540L129.3 534.8L129.5 544.5L129.8 544.8L130 545.2L130.3 545.9L130.6 547.2L130.9 547.1L131.1 547.2L131.4 547.2L131.7 548.8L132 548.1L132.2 548.8L132.5 549.3L132.8 548.9L133.1 550L133.4 550.4L133.6 550.2L133.9 550.3L134.2 551.2L134.5 550.9L134.7 551.5L135 551L135.3 552.2L135.6 551.3L135.8 552L136.1 552.6L136.4 552.6L136.7 552.2L136.9 552.6L137.2 553.3L137.5 553.4L137.8 553.7L138.5 553.4L139.2 553.5L139.8 554.6L140.5 553.8L141.2 554.5L141.9 554.3L142.6 555.4L143.3 555.6L144 555.3L144.7 555L145.4 555.9L146.1 556.1L146.7 556L147.4 556.9L148.1 556.9L148.8 556.7L149.5 556.3L150.2 556.9L150.9 556.7L151.6 557.2L152.3 557.1L153 557.3L153.6 558.1L154.3 557.4L155 557.8L155.7 557.5L156.4 558L157.1 558.5L157.8 558.7L158.5 558.1L159.2 558L159.9 558L160.5 558.9L161.2 559.2L161.9 559.1L162.6 558.2L163.3 558.7L164 559.4L164.7 558.6L165.4 558.9L166.1 558.7L166.8 559.6L167.4 558.7L168.1 559.4L168.8 559.1L169.5 560L170.2 559L170.9 558.9L171.6 559.6L172.3 559.5L173 560.3L173.7 559.6L174.3 559.6L175 559.4L175.7 559.5L176.4 560.3L177.1 559.7L177.8 559.9L178.5 560.7L179.2 560.8L179.9 560.7L180.6 560.8L181.2 560.2L181.9 560.3L182.6 560.1L183.3 560.4L184 560.4L184.7 560.4L185.4 561.1L186.1 560.5L186.8 560.5L187.4 561L188.1 561L188.8 560L189.5 560.8L190.2 561.3L190.9 561.2L191.6 560.6L192.3 560.2L193 561.2L193.7 560.6L194.4 560.7L195 560.9L195.7 561L196.4 561.3L197.1 561.2L197.8 561.4L198.5 560.5L199.2 560.9L199.9 560.3L200.6 560.5L201.2 561.1L201.9 560.3L202.6 560.6L203.3 560.7L204 560.8L204.7 561.3L205.4 560.4L206.1 561L206.8 561.5L207.5 561.2L208.2 560.6L208.8 560.4L209.5 561.1L210.2 561.4L210.9 561L211.6 560.6L212.3 561.7L213 560.8L213.7 560.6L214.4 560.9L215.1 560.5L215.7 561.1L216.4 561.3L217.1 560.5L217.8 560.7L218.5 561.5L219.2 561.7L219.9 560.8L220.6 560.9L221.3 561.4L222 561.7L222.6 560.8L223.3 561.4L224 560.9L224.7 561L225.4 561L226.1 560.5L226.8 560.6L227.5 560.8L228.2 561L228.9 560.7L229.5 560.8L230.2 561.5L230.9 560.6L231.6 561.7L232.3 560.7L233 561.1L233.7 561.5L234.4 561.4L235.1 561.4L235.8 561L236.4 561.6L237.1 561.4L237.8 561.4L238.5 560.7L239.2 560.9L239.9 561L240.6 561.6L241.3 560.8L242 560.6L242.7 560.8L243.3 560.9L244 561.6L244.7 560.3L245.4 561L246.1 560.4L246.8 561L247.5 560.7L248.2 560.6L248.9 561.6L249.6 561.5L250.2 561.4L250.9 560.9L251.6 561.1L252.3 561.1L253 560.3L253.7 560.9L254.4 560.6L255.1 560.7L255.8 561.4L256.5 560.5L257.1 561.5L257.8 560.5L258.5 560.3L259.2 561L259.9 560.6L260.6 560.5L261.3 560.5L262 561.2L262.7 560.9L263.4 560.1L264 560.3L264.7 561.1L265.4 560.6L266.1 560.7L266.8 561.1L267.5 561.2L268.2 561.1L268.9 560.4L269.6 560.4L270.2 560.4L270.9 560.8L271.6 560.7L272.3 560.5L273 560.1L273.7 560.9L274.4 560.5L275.1 560.2L275.8 560.8L276.5 560L277.2 559.9L277.8 560.6L278.5 560.6L279.2 560.5L279.9 559.8L280.6 560.1L281.3 560.2L282 560.6L282.7 559.7L283.4 559.8L284.1 560.6L284.7 560.5" stroke="#dcdcdc" stroke-width="0.9" fill="none"/>
<path d="M79 603.7L79.1 602.5L79.3 600.6L79.4 599.2L79.6 598.8L79.7 597.2L79.8 596.8L80 595.6L80.1 594.2L80.3 594.2L80.4 593.4L80.5 592.4L80.7 591.7L80.8 590.3L81.2 588.2L81.6 585.9L82 583.5L82.5 581.4L82.9 578.9L83.3 578.1L83.7 575.6L84.1 573.7L84.5 572.3L84.9 571.6L85.4 570.2L85.8 568.6L86.2 567.8L86.6 565.4L87 564.4L87.4 563.3L87.8 562.4L88.3 560.9L88.7 560.6L89.1 560.1L89.5 558.7L89.9 557.7L90.3 556.4L91.2 555.6L92 553L92.8 552L93.6 550.9L94.5 548.7L95.3 547L96.1 546L96.9 544.5L97.8 543.6L98.6 542.4L99.4 541.7L100.3 539.5L101.1 538.7L101.9 538.1L102.7 536.9L103.6 535.4L104.4 534.2L105.2 532.8L106.1 532.5L106.9 531.3L107.7 530.2L108.5 530L109.4 528L110.2 527.8L111 526.1L111.9 525.4L112.7 524.6L113.5 524.6L114.3 523.3L115.2 522.5L116 521.9L116.8 520.9L117.6 520.3L118.5 519.2L119.3 518.3L120.1 517.7L121 516.8L121.8 516.1L122.6 515.9L123.4 514.9L124.3 514.1L125.1 514.3L125.9 512.9L126.8 512.6L127.6 512.3L128.4 511.5L129.2 510.7L129.3 504.7L129.5 517.6L129.8 518.6L130 519.6L130.3 519.8L130.6 520.9L130.9 522.4L131.1 522.2L131.4 522.9L131.7 523.1L132 523.9L132.2 524.2L132.5 525.7L132.8 525.3L133.1 526.3L133.4 526.9L133.6 526.4L133.9 526.7L134.2 526.9L134.5 528.1L134.7 527.6L135 528.3L135.3 528.6L135.6 528.7L135.8 529L136.1 530.3L136.4 529.8L136.7 530.1L136.9 530.2L137.2 530.9L137.5 530.3L137.8 531.5L138.5 531.2L139.2 532.5L139.8 533.1L140.5 533.5L141.2 532.8L141.9 534.4L142.6 534.3L143.3 534L144 534.9L144.7 534.4L145.4 534.8L146.1 535.6L146.7 535.5L147.4 535.6L148.1 536L148.8 535.9L149.5 537L150.2 536.8L150.9 537.5L151.6 538L152.3 537.2L153 538L153.6 538.6L154.3 538L155 538L155.7 539L156.4 538.9L157.1 538.2L157.8 538.8L158.5 539.7L159.2 538.9L159.9 539.7L160.5 539.7L161.2 539L161.9 539.1L162.6 540.5L163.3 540.7L164 539.9L164.7 540.4L165.4 540.8L166.1 540.8L166.8 540.1L167.4 541.2L168.1 540.7L168.8 541L169.5 541.3L170.2 541.2L170.9 541.1L171.6 541.9L172.3 541.3L173 542.2L173.7 542.3L174.3 542.2L175 542.1L175.7 542L176.4 541.9L177.1 542.6L177.8 541.7L178.5 542.2L179.2 541.8L179.9 542.3L180.6 542.8L181.2 541.9L181.9 542.5L182.6 542.8L183.3 542.6L184 542.7L184.7 542.5L185.4 543.4L186.1 542.4L186.8 542.9L187.4 543.1L188.1 543.7L188.8 543.5L189.5 542.8L190.2 543.3L190.9 543.2L191.6 543.2L192.3 543.5L193 544.1L193.7 544.1L194.4 543L195 543.4L195.7 543.1L196.4 543.3L197.1 543.4L197.8 543.9L198.5 543.4L199.2 543.7L199.9 543.7L200.6 543.9L201.2 543.6L201.9 543.3L202.6 543.3L203.3 543.3L204 544.5L204.7 543.9L205.4 544.2L206.1 544.4L206.8 543.9L207.5 544.7L208.2 544.7L208.8 543.8L209.5 543.7L210.2 544L210.9 543.8L211.6 543.6L212.3 544.6L213 544.5L213.7 544.2L214.4 544.5L215.1 543.9L215.7 544.2L216.4 544.6L217.1 543.7L217.8 544.5L218.5 544.1L219.2 544L219.9 543.8L220.6 544.8L221.3 544.5L222 543.7L222.6 544.3L223.3 544.6L224 544.3L224.7 544.2L225.4 544.3L226.1 544.7L226.8 544.4L227.5 545L228.2 544.1L228.9 544L229.5 544.8L230.2 544.7L230.9 544L231.6 544.1L232.3 544.8L233 544.2L233.7 544.5L234.4 545L235.1 544L235.8 544.9L236.4 544.5L237.1 544.8L237.8 544.1L238.5 544.5L239.2 543.7L239.9 545L240.6 544.4L241.3 544.1L242 544.9L242.7 544.1L243.3 545L244 544.2L244.7 544.9L245.4 544.8L246.1 544.1L246.8 543.7L247.5 544.1L248.2 544.8L248.9 543.9L249.6 544.9L250.2 543.8L250.9 544.6L251.6 544.1L252.3 544.9L253 544.7L253.7 544.2L254.4 544.1L255.1 544.2L255.8 544.6L256.5 544.4L257.1 544.4L257.8 544.3L258.5 544.7L259.2 543.6L259.9 544.5L260.6 544.7L261.3 544.6L262 544.4L262.7 544.5L263.4 544.2L264 543.6L264.7 544.4L265.4 544.4L266.1 543.6L266.8 543.6L267.5 544.1L268.2 543.7L268.9 544.3L269.6 543.8L270.2 543.8L270.9 544.6L271.6 543.8L272.3 544.1L273 543.8L273.7 543.4L274.4 543.8L275.1 544L275.8 543.4L276.5 544.1L277.2 544.4L277.8 543.7L278.5 543.3L279.2 543.6L279.9 543.3L280.6 543.5L281.3 543.4L282 543.3L282.7 543.1L283.4 543.8L284.1 543.3L284.7 543.6" stroke="#d0a0d4" stroke-width="0.9" fill="none"/>
<path d="M79 603.7L79.1 601.6L79.3 599.3L79.4 597.3L79.6 594.9L79.7 592.5L79.8 589.7L80 587.7L80.1 586.6L80.3 584.7L80.4 583.1L80.5 581L80.7 580.1L80.8 578.9L81.2 574.9L81.6 572.3L82 568.8L82.5 566.8L82.9 563.6L83.3 562L83.7 559.4L84.1 558.2L84.5 556.7L84.9 554.1L85.4 552.7L85.8 552.2L86.2 549.5L86.6 548.2L87 546.7L87.4 545.8L87.8 544.2L88.3 542.9L88.7 542L89.1 541.1L89.5 539L89.9 537.4L90.3 537.2L91.2 534.1L92 531.9L92.8 529.7L93.6 527.1L94.5 525L95.3 522.6L96.1 521L96.9 518.9L97.8 516.7L98.6 515.2L99.4 512.4L100.3 511.6L101.1 508.8L101.9 507.9L102.7 506.1L103.6 503.4L104.4 502.1L105.2 501L106.1 498.9L106.9 497.8L107.7 495.8L108.5 494.8L109.4 493.3L110.2 492.2L111 490.3L111.9 489.4L112.7 487.7L113.5 486.5L114.3 484.9L115.2 484.3L116 482.5L116.8 482.1L117.6 480L118.5 479.8L119.3 478.3L120.1 477.6L121 475.8L121.8 475.4L122.6 474.6L123.4 473L124.3 471.9L125.1 471.2L125.9 470.3L126.8 469.3L127.6 468.2L128.4 468.1L129.2 467.1L129.3 461.9L129.5 479.1L129.8 479.1L130 480.6L130.3 481.7L130.6 482.5L130.9 484.5L131.1 484.8L131.4 485.9L131.7 486.1L132 487.3L132.2 488.2L132.5 488.5L132.8 489.4L133.1 490.4L133.4 490.7L133.6 492L133.9 492.1L134.2 492.9L134.5 493.2L134.7 493.3L135 493.7L135.3 494.3L135.6 494.9L135.8 495.1L136.1 495.7L136.4 496.5L136.7 496.6L136.9 497.7L137.2 498L137.5 497.7L137.8 498.6L138.5 499.5L139.2 500L139.8 499.9L140.5 500.3L141.2 502L141.9 502.7L142.6 503L143.3 502.9L144 504.1L144.7 504.3L145.4 503.9L146.1 504.4L146.7 505.8L147.4 505.1L148.1 506.4L148.8 506.4L149.5 506.4L150.2 506.3L150.9 506.6L151.6 507.8L152.3 508.1L153 507.8L153.6 508.7L154.3 508.9L155 509.4L155.7 509.7L156.4 509L157.1 509.3L157.8 509.9L158.5 509.7L159.2 510.5L159.9 510.4L160.5 511L161.2 510.5L161.9 511.1L162.6 511.2L163.3 511.6L164 512L164.7 512.8L165.4 512.1L166.1 512.5L166.8 512.8L167.4 512.3L168.1 513.5L168.8 512.6L169.5 513.1L170.2 513.7L170.9 513.1L171.6 513.3L172.3 513.8L173 514.3L173.7 514.1L174.3 515L175 514.6L175.7 514.5L176.4 514.3L177.1 514.9L177.8 514.9L178.5 514.7L179.2 515.1L179.9 516L180.6 515.7L181.2 516L181.9 516.1L182.6 516.2L183.3 516.2L184 516.7L184.7 515.5L185.4 515.9L186.1 515.9L186.8 516.1L187.4 516L188.1 516.9L188.8 517.3L189.5 516.8L190.2 516.2L190.9 517L191.6 516.9L192.3 517L193 517L193.7 517.4L194.4 517.1L195 516.7L195.7 518L196.4 517.1L197.1 517.4L197.8 518.1L198.5 518L199.2 517.4L199.9 518.2L200.6 517.1L201.2 518.1L201.9 517.8L202.6 517.5L203.3 518.3L204 518.2L204.7 518.5L205.4 518L206.1 518.3L206.8 517.7L207.5 518.5L208.2 518.4L208.8 518.3L209.5 517.9L210.2 518L210.9 518.8L211.6 518.5L212.3 517.8L213 519L213.7 518L214.4 519L215.1 518.8L215.7 518.7L216.4 518.8L217.1 518.3L217.8 518.6L218.5 518.5L219.2 518.7L219.9 518.5L220.6 518.5L221.3 518.2L222 519.4L222.6 519.4L223.3 519.3L224 518.8L224.7 518.3L225.4 519.3L226.1 519.2L226.8 518.6L227.5 518.6L228.2 518.7L228.9 519.3L229.5 518.3L230.2 518.8L230.9 518.5L231.6 518.9L232.3 519.5L233 518.3L233.7 519.5L234.4 519L235.1 518.7L235.8 518.7L236.4 519.2L237.1 519.7L237.8 519.2L238.5 518.5L239.2 519.3L239.9 518.9L240.6 518.6L241.3 519.1L242 519L242.7 518.7L243.3 518.8L244 519L244.7 519.4L245.4 518.5L246.1 518.9L246.8 518.8L247.5 519.5L248.2 519.1L248.9 519.6L249.6 519.3L250.2 519.3L250.9 519L251.6 519.6L252.3 519.7L253 519.5L253.7 518.5L254.4 518.8L255.1 519.5L255.8 518.6L256.5 518.9L257.1 519.5L257.8 518.4L258.5 518.8L259.2 519.6L259.9 519.4L260.6 519.6L261.3 518.7L262 518.9L262.7 519.5L263.4 518.7L264 518.5L264.7 519.3L265.4 518.7L266.1 518.3L266.8 518.4L267.5 518.9L268.2 518.6L268.9 519L269.6 519.3L270.2 519.4L270.9 519.5L271.6 519.2L272.3 519.4L273 519.3L273.7 519.5L274.4 518.6L275.1 518.7L275.8 518.6L276.5 519.5L277.2 519.2L277.8 518.6L278.5 518.4L279.2 518.2L279.9 518.8L280.6 519.3L281.3 519.2L282 518.2L282.7 519.3L283.4 519.2L284.1 519.1L284.7 518.2" stroke="#b4e8b4" stroke-width="0.9" fill="none"/>
<path d="M49.5 607.2L49.9 608L50.3 609.4L51.3 592.7L51.9 597.9L52.4 595.7L53.1 608.6L53.3 609.3L53.9 608.7L54.4 608.1L55 608.1L55.5 607.9L56.1 608.3L56.6 607.6L57.2 607.9L57.7 608.5L58.3 607.8L58.8 608.4L59.4 606.8L59.9 606.7L60.5 607.6L61 607.5L61.6 606.6L62.1 607.4L62.7 607.4L63.2 607.3L63.8 606.9L64.4 606.3L64.9 605.6L65.5 606.8L66 605.4L66.6 606L67.1 605.3L67.7 605.3L68.2 606.3L68.8 605.4L69.3 606.1L69.9 606.2L70.4 605.5L71 604.7L71.5 605L72.1 605.5L72.6 604.3L73.2 604.1L73.7 605.1L74.3 604.6L74.8 604.2L75.4 603.7L75.9 604.8L76.5 604L77.1 603.2L77.6 603.7L78.2 603.4L78.7 603.2L79 603.7" stroke="#a0cca0" stroke-width="0.9" fill="none"/>
<path d="M49.5 608.2L49.9 609L50.3 610.4L51.3 594.6L51.9 598.9L52.4 596.7L53.1 609.5L53.3 608.9L53.9 609.4L54.4 608L55 608L55.5 608.6L56.1 608.2L56.6 608.8L57.2 608.7L57.7 608.5L58.3 607.7L58.8 608.4L59.4 607L59.9 608.4L60.5 608.1L61 608.1L61.6 606.9L62.1 607.5L62.7 607.2L63.2 607.3L63.8 606.7L64.4 607L64.9 607.2L65.5 606.7L66 606.8L66.6 607L67.1 605.7L67.7 605.9L68.2 605.8L68.8 605.3L69.3 606L69.9 605.9L70.4 605.7L71 605.6L71.5 605.1L72.1 606.1L72.6 605.2L73.2 605L73.7 605.2L74.3 605.6L74.8 604.4L75.4 605.4L75.9 604.4L76.5 605L77.1 605L77.6 604.7L78.2 604.8L78.7 604.5L79 603.7" stroke="#c890d8" stroke-width="0.9" fill="none"/>
<path d="M49.5 606.8L49.9 607.6L50.3 609L51.3 591.9L51.9 597.5L52.4 595.3L53.1 608.2L53.3 609.2L53.9 608.3L54.4 608.9L55 607.9L55.5 608L56.1 608.2L56.6 607.7L57.2 607.7L57.7 608.5L58.3 607.6L58.8 607.3L59.4 607.4L59.9 606.7L60.5 606.8L61 607.3L61.6 607.4L62.1 607.5L62.7 606.2L63.2 606.3L63.8 606.3L64.4 606.5L64.9 606.3L65.5 606.6L66 606L66.6 606.5L67.1 605.6L67.7 605.5L68.2 605.3L68.8 605.9L69.3 606.1L69.9 605.6L70.4 604.9L71 605.1L71.5 604.6L72.1 605L72.6 604.9L73.2 604L73.7 605.1L74.3 604.9L74.8 604.2L75.4 604L75.9 604.2L76.5 603.9L77.1 604L77.6 603.5L78.2 603L78.7 603L79 603.7" stroke="#9c9cf4" stroke-width="0.9" fill="none"/>
<path d="M49.5 607.5L49.9 608.3L50.3 609.7L51.3 593.2L51.9 598.2L52.4 596L53.1 608.9L53.3 608L53.9 608.8L54.4 608.2L55 608.1L55.5 608.8L56.1 608.9L56.6 608L57.2 608.7L57.7 608.1L58.3 607.2L58.8 607.1L59.4 608.2L59.9 608.2L60.5 607.8L61 606.7L61.6 607.9L62.1 607.5L62.7 607.6L63.2 607.4L63.8 606.7L64.4 607.1L64.9 606.6L65.5 606L66 605.9L66.6 606.3L67.1 605.6L67.7 605.8L68.2 605.3L68.8 606.1L69.3 605.8L69.9 605.4L70.4 604.7L71 605.1L71.5 605.2L72.1 605.5L72.6 605.3L73.2 605.3L73.7 603.9L74.3 604L74.8 603.9L75.4 604.4L75.9 603.9L76.5 604.5L77.1 604.1L77.6 604.5L78.2 604L78.7 604.1L79 603.7" stroke="#f4a4a0" stroke-width="0.9" fill="none"/>
<path d="M292 457.5 H303.4" stroke="#f4a4a0" stroke-width="1" fill="none"/>
<text x="306.5" y="462.7" font-size="14.7" textLength="6.92" lengthAdjust="spacingAndGlyphs">0</text>
<path d="M292 475.5 H303.4" stroke="#a0cca0" stroke-width="1" fill="none"/>
<text x="306.5" y="481.32" font-size="14.7" textLength="31.12" lengthAdjust="spacingAndGlyphs">0.008</text>
<path d="M292 495.5 H303.4" stroke="#9c9cf4" stroke-width="1" fill="none"/>
<text x="306.5" y="499.94" font-size="14.7" textLength="31.12" lengthAdjust="spacingAndGlyphs">0.016</text>
<path d="M292 513.5 H303.4" stroke="#f4a4f4" stroke-width="1" fill="none"/>
<text x="306.5" y="518.56" font-size="14.7" textLength="31.12" lengthAdjust="spacingAndGlyphs">0.031</text>
<path d="M292 532.5 H303.4" stroke="#a4e4e8" stroke-width="1" fill="none"/>
<text x="306.5" y="537.18" font-size="14.7" textLength="31.12" lengthAdjust="spacingAndGlyphs">0.063</text>
<path d="M292 551.5 H303.4" stroke="#f2d0a4" stroke-width="1" fill="none"/>
<text x="306.5" y="555.8" font-size="14.7" textLength="31.12" lengthAdjust="spacingAndGlyphs">0.125</text>
<path d="M292 569.5 H303.4" stroke="#dcdcdc" stroke-width="1" fill="none"/>
<text x="306.5" y="574.42" font-size="14.7" textLength="24.21" lengthAdjust="spacingAndGlyphs">0.25</text>
<path d="M292 588.5 H303.4" stroke="#d0a0d4" stroke-width="1" fill="none"/>
<text x="306.5" y="593.04" font-size="14.7" textLength="17.29" lengthAdjust="spacingAndGlyphs">0.5</text>
<path d="M292 606.5 H303.4" stroke="#b4e8b4" stroke-width="1" fill="none"/>
<text x="306.07" y="611.66" font-size="14.7" textLength="6.92" lengthAdjust="spacingAndGlyphs">1</text>
<text x="146.13" y="652.9" font-size="14.11" textLength="43.61" lengthAdjust="spacingAndGlyphs">Time (s)</text>
<text x="18.6" y="627.91" font-size="12.51" textLength="173.53" lengthAdjust="spacingAndGlyphs" transform="rotate(-90 18.6 627.91)">Response (RU, 0 = baseline)</text>
<text x="2" y="452.19" font-size="21.37" font-weight="bold" textLength="11.82" lengthAdjust="spacingAndGlyphs">e</text>
<path d="M397.3 618 H630.3" stroke="#d4d4d4" stroke-width="1.8" fill="none"/>
<path d="M397.3 453.3 V618 M396.1 460.68 H398.1 M396.1 468.17 H398.1 M396.1 475.65 H398.1 M396.1 490.62 H398.1 M396.1 498.11 H398.1 M396.1 505.59 H398.1 M396.1 520.56 H398.1 M396.1 528.05 H398.1 M396.1 535.53 H398.1 M396.1 550.5 H398.1 M396.1 557.99 H398.1 M396.1 565.48 H398.1 M396.1 580.44 H398.1 M396.1 587.93 H398.1 M396.1 595.41 H398.1 M396.1 610.38 H398.1 M396.1 617.87 H398.1 M395.3 453.2 H398.6 M395.3 483.14 H398.6 M395.3 513.08 H398.6 M395.3 543.02 H398.6 M395.3 572.96 H398.6 M395.3 602.9 H398.6" stroke="#a8a8a8" stroke-width="0.8" fill="none"/>
<path d="M397.4 617.5 V620.2 M411.95 617.5 V619.2 M426.5 617.5 V620.2 M441.05 617.5 V619.2 M455.6 617.5 V620.2 M470.15 617.5 V619.2 M484.7 617.5 V620.2 M499.25 617.5 V619.2 M513.8 617.5 V620.2 M528.35 617.5 V619.2 M542.9 617.5 V620.2 M557.45 617.5 V619.2 M572 617.5 V620.2 M586.55 617.5 V619.2 M601.1 617.5 V620.2 M615.65 617.5 V619.2 M630.2 617.5 V620.2" stroke="#b0b0b0" stroke-width="0.8" fill="none"/>
<text x="367.83" y="458.4" font-size="12.6" textLength="26.91" lengthAdjust="spacingAndGlyphs">1050</text>
<text x="371.38" y="488.34" font-size="12.6" textLength="20.18" lengthAdjust="spacingAndGlyphs">850</text>
<text x="371.34" y="518.28" font-size="12.6" textLength="20.18" lengthAdjust="spacingAndGlyphs">650</text>
<text x="371.51" y="548.22" font-size="12.6" textLength="20.18" lengthAdjust="spacingAndGlyphs">450</text>
<text x="371.34" y="578.16" font-size="12.6" textLength="20.18" lengthAdjust="spacingAndGlyphs">250</text>
<text x="374.77" y="608.1" font-size="12.6" textLength="13.45" lengthAdjust="spacingAndGlyphs">50</text>
<text x="394.17" y="631.1" font-size="11.6" textLength="6.45" lengthAdjust="spacingAndGlyphs">0</text>
<text x="416.61" y="631.1" font-size="11.6" textLength="19.35" lengthAdjust="spacingAndGlyphs">100</text>
<text x="445.86" y="631.1" font-size="11.6" textLength="19.35" lengthAdjust="spacingAndGlyphs">200</text>
<text x="475.03" y="631.1" font-size="11.6" textLength="19.35" lengthAdjust="spacingAndGlyphs">300</text>
<text x="504.22" y="631.1" font-size="11.6" textLength="19.35" lengthAdjust="spacingAndGlyphs">400</text>
<text x="533.21" y="631.1" font-size="11.6" textLength="19.35" lengthAdjust="spacingAndGlyphs">500</text>
<text x="562.26" y="631.1" font-size="11.6" textLength="19.35" lengthAdjust="spacingAndGlyphs">600</text>
<text x="591.36" y="631.1" font-size="11.6" textLength="19.35" lengthAdjust="spacingAndGlyphs">700</text>
<text x="620.5" y="631.1" font-size="11.6" textLength="19.35" lengthAdjust="spacingAndGlyphs">800</text>
<path d="M428.2 610.4L630.2 610.4" stroke="#f49090" stroke-width="1" fill="none"/>
<path d="M428.2 610.4L428.4 609.6L428.5 609L428.7 608.7L428.8 608.4L429 608.3L429.1 608.1L429.3 608L429.4 607.9L429.6 607.8L429.7 607.7L429.8 607.6L430 607.5L430.6 607.2L431.2 606.8L431.7 606.5L432.3 606.2L432.9 605.9L433.5 605.6L434.1 605.3L434.6 605.1L435.2 604.8L435.8 604.5L436.4 604.3L437 604L437.6 603.8L438.1 603.6L438.7 603.4L439.3 603.1L439.9 602.9L441 602.5L442.2 602.2L443.4 601.8L444.5 601.5L445.7 601.2L446.9 600.9L448 600.6L449.2 600.3L450.4 600.1L451.5 599.9L452.7 599.6L453.9 599.4L455 599.2L456.2 599.1L457.3 598.9L458.5 598.7L459.7 598.6L460.8 598.4L462 598.3L463.2 598.2L464.3 598.1L465.5 597.9L466.7 597.8L467.8 597.7L469 597.6L470.1 597.6L471.3 597.5L472.5 597.4L473.6 597.3L474.8 597.3L476 597.2L477.1 597.1L478.3 597.1L479.5 597L480 597L480.3 597.2L480.9 597.6L481.5 598L482.1 598.4L482.7 598.8L483.2 599.1L483.8 599.4L484.4 599.8L485 600L485.6 600.3L486.2 600.6L486.7 600.8L487.3 601.1L487.9 601.3L488.5 601.5L489.1 601.7L489.6 601.9L490.2 602L490.8 602.2L491.4 602.4L492 602.5L492.6 602.7L493.1 602.8L493.7 602.9L494.3 603.1L494.9 603.2L495.5 603.3L496 603.4L496.6 603.5L497.2 603.6L497.8 603.7L498.4 603.8L499 603.9L499.5 603.9L500.1 604L500.7 604.1L501.3 604.2L501.9 604.2L502.5 604.3L503 604.3L503.6 604.4L504.2 604.5L504.8 604.5L505.4 604.6L505.9 604.6L506.5 604.7L507.1 604.7L507.7 604.8L508.3 604.8L508.9 604.8L509.4 604.9L511.2 605L512.9 605.1L514.7 605.2L516.4 605.3L518.2 605.4L519.9 605.4L521.7 605.5L523.4 605.6L525.1 605.6L526.9 605.7L528.6 605.7L530.4 605.8L532.1 605.9L533.9 605.9L535.6 606L537.4 606L539.1 606.1L540.9 606.1L542.6 606.1L544.4 606.2L546.1 606.2L547.8 606.3L549.6 606.3L551.3 606.4L553.1 606.4L554.8 606.4L556.6 606.5L558.3 606.5L560.1 606.6L561.8 606.6L563.6 606.6L565.3 606.7L567.1 606.7L568.8 606.8L570.5 606.8L572.3 606.8L574 606.9L575.8 606.9L577.5 606.9L579.3 607L581 607L582.8 607L584.5 607.1L586.3 607.1L588 607.1L589.8 607.2L591.5 607.2L593.2 607.2L595 607.3L596.7 607.3L598.5 607.3L600.2 607.4L602 607.4L603.7 607.4L605.5 607.5L607.2 607.5L609 607.5L610.7 607.5L612.4 607.6L614.2 607.6L615.9 607.6L617.7 607.7L619.4 607.7L621.2 607.7L622.9 607.7L624.7 607.8L626.4 607.8L628.2 607.8L629.9 607.8" stroke="#98c898" stroke-width="1" fill="none"/>
<path d="M428.2 610.4L428.4 609.9L428.5 609.5L428.7 609.1L428.8 608.7L429 608.3L429.1 608L429.3 607.6L429.4 607.3L429.6 606.9L429.7 606.6L429.8 606.3L430 606L430.6 604.8L431.2 603.8L431.7 602.9L432.3 602L432.9 601.2L433.5 600.5L434.1 599.8L434.6 599.1L435.2 598.5L435.8 597.9L436.4 597.4L437 596.9L437.6 596.3L438.1 595.9L438.7 595.4L439.3 594.9L439.9 594.5L441 593.7L442.2 592.9L443.4 592.1L444.5 591.5L445.7 590.8L446.9 590.2L448 589.6L449.2 589.1L450.4 588.6L451.5 588.1L452.7 587.7L453.9 587.3L455 586.9L456.2 586.5L457.3 586.1L458.5 585.8L459.7 585.5L460.8 585.2L462 584.9L463.2 584.7L464.3 584.4L465.5 584.2L466.7 584L467.8 583.8L469 583.6L470.1 583.4L471.3 583.2L472.5 583.1L473.6 582.9L474.8 582.8L476 582.6L477.1 582.5L478.3 582.4L479.5 582.3L480 582.2L480.3 582.7L480.9 583.6L481.5 584.4L482.1 585.2L482.7 586L483.2 586.7L483.8 587.4L484.4 588L485 588.6L485.6 589.2L486.2 589.8L486.7 590.3L487.3 590.8L487.9 591.2L488.5 591.7L489.1 592.1L489.6 592.5L490.2 592.9L490.8 593.2L491.4 593.5L492 593.9L492.6 594.2L493.1 594.5L493.7 594.7L494.3 595L494.9 595.2L495.5 595.5L496 595.7L496.6 595.9L497.2 596.1L497.8 596.3L498.4 596.5L499 596.7L499.5 596.8L500.1 597L500.7 597.1L501.3 597.3L501.9 597.4L502.5 597.6L503 597.7L503.6 597.8L504.2 597.9L504.8 598L505.4 598.2L505.9 598.3L506.5 598.4L507.1 598.5L507.7 598.6L508.3 598.6L508.9 598.7L509.4 598.8L511.2 599.1L512.9 599.3L514.7 599.5L516.4 599.6L518.2 599.8L519.9 600L521.7 600.1L523.4 600.3L525.1 600.4L526.9 600.5L528.6 600.6L530.4 600.7L532.1 600.9L533.9 601L535.6 601.1L537.4 601.2L539.1 601.3L540.9 601.4L542.6 601.5L544.4 601.6L546.1 601.7L547.8 601.7L549.6 601.8L551.3 601.9L553.1 602L554.8 602.1L556.6 602.2L558.3 602.3L560.1 602.4L561.8 602.4L563.6 602.5L565.3 602.6L567.1 602.7L568.8 602.8L570.5 602.8L572.3 602.9L574 603L575.8 603.1L577.5 603.1L579.3 603.2L581 603.3L582.8 603.4L584.5 603.4L586.3 603.5L588 603.6L589.8 603.6L591.5 603.7L593.2 603.8L595 603.8L596.7 603.9L598.5 604L600.2 604L602 604.1L603.7 604.2L605.5 604.2L607.2 604.3L609 604.4L610.7 604.4L612.4 604.5L614.2 604.5L615.9 604.6L617.7 604.7L619.4 604.7L621.2 604.8L622.9 604.8L624.7 604.9L626.4 604.9L628.2 605L629.9 605" stroke="#8c8cf0" stroke-width="1" fill="none"/>
<path d="M428.2 610.4L428.4 608.7L428.5 607.1L428.7 605.7L428.8 604.3L429 603L429.1 601.8L429.3 600.7L429.4 599.6L429.6 598.6L429.7 597.7L429.8 596.8L430 595.9L430.6 593L431.2 590.6L431.7 588.5L432.3 586.8L432.9 585.3L433.5 583.9L434.1 582.7L434.6 581.6L435.2 580.6L435.8 579.6L436.4 578.7L437 577.9L437.6 577L438.1 576.3L438.7 575.5L439.3 574.8L439.9 574.1L441 572.8L442.2 571.6L443.4 570.5L444.5 569.4L445.7 568.4L446.9 567.5L448 566.7L449.2 565.9L450.4 565.2L451.5 564.5L452.7 563.8L453.9 563.2L455 562.7L456.2 562.2L457.3 561.7L458.5 561.3L459.7 560.8L460.8 560.5L462 560.1L463.2 559.8L464.3 559.5L465.5 559.2L466.7 558.9L467.8 558.6L469 558.4L470.1 558.2L471.3 558L472.5 557.8L473.6 557.6L474.8 557.4L476 557.3L477.1 557.1L478.3 557L479.5 556.9L480 556.8L480.3 557.7L480.9 559.4L481.5 561L482.1 562.6L482.7 564L483.2 565.4L483.8 566.7L484.4 567.9L485 569L485.6 570.1L486.2 571.2L486.7 572.1L487.3 573.1L487.9 574L488.5 574.8L489.1 575.6L489.6 576.3L490.2 577L490.8 577.7L491.4 578.3L492 579L492.6 579.5L493.1 580.1L493.7 580.6L494.3 581.1L494.9 581.6L495.5 582L496 582.4L496.6 582.8L497.2 583.2L497.8 583.6L498.4 583.9L499 584.3L499.5 584.6L500.1 584.9L500.7 585.2L501.3 585.5L501.9 585.7L502.5 586L503 586.2L503.6 586.5L504.2 586.7L504.8 586.9L505.4 587.1L505.9 587.3L506.5 587.5L507.1 587.7L507.7 587.9L508.3 588.1L508.9 588.2L509.4 588.4L511.2 588.8L512.9 589.2L514.7 589.6L516.4 590L518.2 590.3L519.9 590.6L521.7 590.8L523.4 591.1L525.1 591.4L526.9 591.6L528.6 591.8L530.4 592.1L532.1 592.3L533.9 592.5L535.6 592.7L537.4 592.9L539.1 593.1L540.9 593.2L542.6 593.4L544.4 593.6L546.1 593.8L547.8 594L549.6 594.1L551.3 594.3L553.1 594.5L554.8 594.6L556.6 594.8L558.3 595L560.1 595.1L561.8 595.3L563.6 595.4L565.3 595.6L567.1 595.7L568.8 595.9L570.5 596L572.3 596.2L574 596.3L575.8 596.5L577.5 596.6L579.3 596.7L581 596.9L582.8 597L584.5 597.1L586.3 597.3L588 597.4L589.8 597.5L591.5 597.7L593.2 597.8L595 597.9L596.7 598.1L598.5 598.2L600.2 598.3L602 598.4L603.7 598.6L605.5 598.7L607.2 598.8L609 598.9L610.7 599L612.4 599.1L614.2 599.3L615.9 599.4L617.7 599.5L619.4 599.6L621.2 599.7L622.9 599.8L624.7 599.9L626.4 600L628.2 600.1L629.9 600.2" stroke="#f490f4" stroke-width="1" fill="none"/>
<path d="M428.2 610.4L428.4 607.4L428.5 604.6L428.7 602L428.8 599.5L429 597.1L429.1 594.8L429.3 592.7L429.4 590.6L429.6 588.7L429.7 586.8L429.8 585.1L430 583.4L430.6 577.4L431.2 572.4L431.7 568.2L432.3 564.6L432.9 561.4L433.5 558.6L434.1 556.2L434.6 553.9L435.2 551.9L435.8 550L436.4 548.3L437 546.8L437.6 545.3L438.1 543.9L438.7 542.6L439.3 541.4L439.9 540.3L441 538.2L442.2 536.3L443.4 534.6L444.5 533L445.7 531.6L446.9 530.4L448 529.2L449.2 528.2L450.4 527.3L451.5 526.4L452.7 525.6L453.9 525L455 524.3L456.2 523.8L457.3 523.2L458.5 522.8L459.7 522.3L460.8 522L462 521.6L463.2 521.3L464.3 521L465.5 520.7L466.7 520.5L467.8 520.3L469 520.1L470.1 519.9L471.3 519.8L472.5 519.6L473.6 519.5L474.8 519.4L476 519.3L477.1 519.2L478.3 519.1L479.5 519L480 519L480.3 520.5L480.9 523.4L481.5 526.1L482.1 528.7L482.7 531.2L483.2 533.5L483.8 535.7L484.4 537.8L485 539.8L485.6 541.7L486.2 543.4L486.7 545.1L487.3 546.7L487.9 548.2L488.5 549.6L489.1 551L489.6 552.2L490.2 553.4L490.8 554.6L491.4 555.7L492 556.7L492.6 557.7L493.1 558.6L493.7 559.5L494.3 560.4L494.9 561.2L495.5 561.9L496 562.7L496.6 563.4L497.2 564L497.8 564.6L498.4 565.2L499 565.8L499.5 566.4L500.1 566.9L500.7 567.4L501.3 567.9L501.9 568.3L502.5 568.7L503 569.2L503.6 569.6L504.2 570L504.8 570.3L505.4 570.7L505.9 571L506.5 571.3L507.1 571.7L507.7 572L508.3 572.3L508.9 572.5L509.4 572.8L511.2 573.6L512.9 574.3L514.7 574.9L516.4 575.5L518.2 576L519.9 576.6L521.7 577L523.4 577.5L525.1 577.9L526.9 578.3L528.6 578.7L530.4 579.1L532.1 579.4L533.9 579.8L535.6 580.1L537.4 580.5L539.1 580.8L540.9 581.1L542.6 581.4L544.4 581.7L546.1 582L547.8 582.3L549.6 582.6L551.3 582.9L553.1 583.2L554.8 583.5L556.6 583.8L558.3 584L560.1 584.3L561.8 584.6L563.6 584.8L565.3 585.1L567.1 585.4L568.8 585.6L570.5 585.9L572.3 586.1L574 586.4L575.8 586.6L577.5 586.8L579.3 587.1L581 587.3L582.8 587.6L584.5 587.8L586.3 588L588 588.2L589.8 588.5L591.5 588.7L593.2 588.9L595 589.1L596.7 589.3L598.5 589.6L600.2 589.8L602 590L603.7 590.2L605.5 590.4L607.2 590.6L609 590.8L610.7 591L612.4 591.2L614.2 591.4L615.9 591.6L617.7 591.8L619.4 592L621.2 592.1L622.9 592.3L624.7 592.5L626.4 592.7L628.2 592.9L629.9 593.1" stroke="#98e6e6" stroke-width="1" fill="none"/>
<path d="M428.2 610.4L428.4 605.6L428.5 601.1L428.7 596.8L428.8 592.7L429 588.8L429.1 585.1L429.3 581.6L429.4 578.3L429.6 575.1L429.7 572.1L429.8 569.2L430 566.4L430.6 556.7L431.2 548.6L431.7 541.8L432.3 536.1L432.9 531.3L433.5 527.2L434.1 523.6L434.6 520.4L435.2 517.7L435.8 515.2L436.4 513L437 510.9L437.6 509.1L438.1 507.4L438.7 505.8L439.3 504.3L439.9 502.9L441 500.4L442.2 498.1L443.4 496L444.5 494L445.7 492.2L446.9 490.6L448 489L449.2 487.6L450.4 486.2L451.5 484.9L452.7 483.8L453.9 482.6L455 481.6L456.2 480.6L457.3 479.7L458.5 478.9L459.7 478.1L460.8 477.3L462 476.6L463.2 476L464.3 475.3L465.5 474.8L466.7 474.2L467.8 473.7L469 473.3L470.1 472.8L471.3 472.4L472.5 472L473.6 471.6L474.8 471.3L476 471L477.1 470.7L478.3 470.4L479.5 470.1L480 470L480.3 472.3L480.9 476.8L481.5 481L482.1 485L482.7 488.8L483.2 492.4L483.8 495.8L484.4 499L485 502L485.6 504.9L486.2 507.6L486.7 510.1L487.3 512.6L487.9 514.9L488.5 517.1L489.1 519.1L489.6 521.1L490.2 523L490.8 524.7L491.4 526.4L492 528L492.6 529.5L493.1 530.9L493.7 532.3L494.3 533.6L494.9 534.8L495.5 536L496 537.1L496.6 538.2L497.2 539.2L497.8 540.2L498.4 541.1L499 542L499.5 542.8L500.1 543.6L500.7 544.4L501.3 545.1L501.9 545.8L502.5 546.5L503 547.1L503.6 547.7L504.2 548.3L504.8 548.9L505.4 549.4L505.9 549.9L506.5 550.4L507.1 550.9L507.7 551.4L508.3 551.9L508.9 552.3L509.4 552.7L511.2 553.9L512.9 554.9L514.7 555.9L516.4 556.8L518.2 557.7L519.9 558.4L521.7 559.2L523.4 559.9L525.1 560.5L526.9 561.1L528.6 561.7L530.4 562.3L532.1 562.9L533.9 563.4L535.6 564L537.4 564.5L539.1 565L540.9 565.5L542.6 565.9L544.4 566.4L546.1 566.9L547.8 567.3L549.6 567.8L551.3 568.2L553.1 568.7L554.8 569.1L556.6 569.5L558.3 569.9L560.1 570.3L561.8 570.8L563.6 571.2L565.3 571.6L567.1 572L568.8 572.3L570.5 572.7L572.3 573.1L574 573.5L575.8 573.9L577.5 574.2L579.3 574.6L581 575L582.8 575.3L584.5 575.7L586.3 576L588 576.4L589.8 576.7L591.5 577.1L593.2 577.4L595 577.8L596.7 578.1L598.5 578.4L600.2 578.7L602 579.1L603.7 579.4L605.5 579.7L607.2 580L609 580.3L610.7 580.6L612.4 580.9L614.2 581.2L615.9 581.5L617.7 581.8L619.4 582.1L621.2 582.4L622.9 582.7L624.7 582.9L626.4 583.2L628.2 583.5L629.9 583.8" stroke="#eecc9c" stroke-width="1" fill="none"/>
<path d="M397.4 610.4L428.2 610.4L428.4 612.2" stroke="#eecc9c" stroke-width="1" fill="none"/>
<path d="M638.3 487.5 H649.3" stroke="#f49090" stroke-width="1" fill="none"/>
<text x="652.02" y="492" font-size="12.6" textLength="6.73" lengthAdjust="spacingAndGlyphs">0</text>
<path d="M638.3 506.5 H649.3" stroke="#98c898" stroke-width="1" fill="none"/>
<text x="652.02" y="511.04" font-size="12.6" textLength="30.27" lengthAdjust="spacingAndGlyphs">0.073</text>
<path d="M638.3 525.5 H649.3" stroke="#8c8cf0" stroke-width="1" fill="none"/>
<text x="652.02" y="530.08" font-size="12.6" textLength="30.27" lengthAdjust="spacingAndGlyphs">0.147</text>
<path d="M638.3 544.5 H649.3" stroke="#f490f4" stroke-width="1" fill="none"/>
<text x="652.02" y="549.12" font-size="12.6" textLength="30.27" lengthAdjust="spacingAndGlyphs">0.294</text>
<path d="M638.3 563.5 H649.3" stroke="#98e6e6" stroke-width="1" fill="none"/>
<text x="652.02" y="568.16" font-size="12.6" textLength="30.27" lengthAdjust="spacingAndGlyphs">0.588</text>
<path d="M638.3 582.5 H649.3" stroke="#eecc9c" stroke-width="1" fill="none"/>
<text x="651.59" y="587.2" font-size="12.6" textLength="23.54" lengthAdjust="spacingAndGlyphs">1.18</text>
<text x="495.24" y="643.1" font-size="11.64" textLength="41.87" lengthAdjust="spacingAndGlyphs">Time (s)</text>
<text x="363.1" y="628.81" font-size="13.24" textLength="173.63" lengthAdjust="spacingAndGlyphs" transform="rotate(-90 363.1 628.81)">Response (RU, 0 = baseline)</text>
<text x="347.55" y="448.3" font-size="24" font-weight="bold" textLength="8.5" lengthAdjust="spacingAndGlyphs">f</text>
</svg>
</body></html>
